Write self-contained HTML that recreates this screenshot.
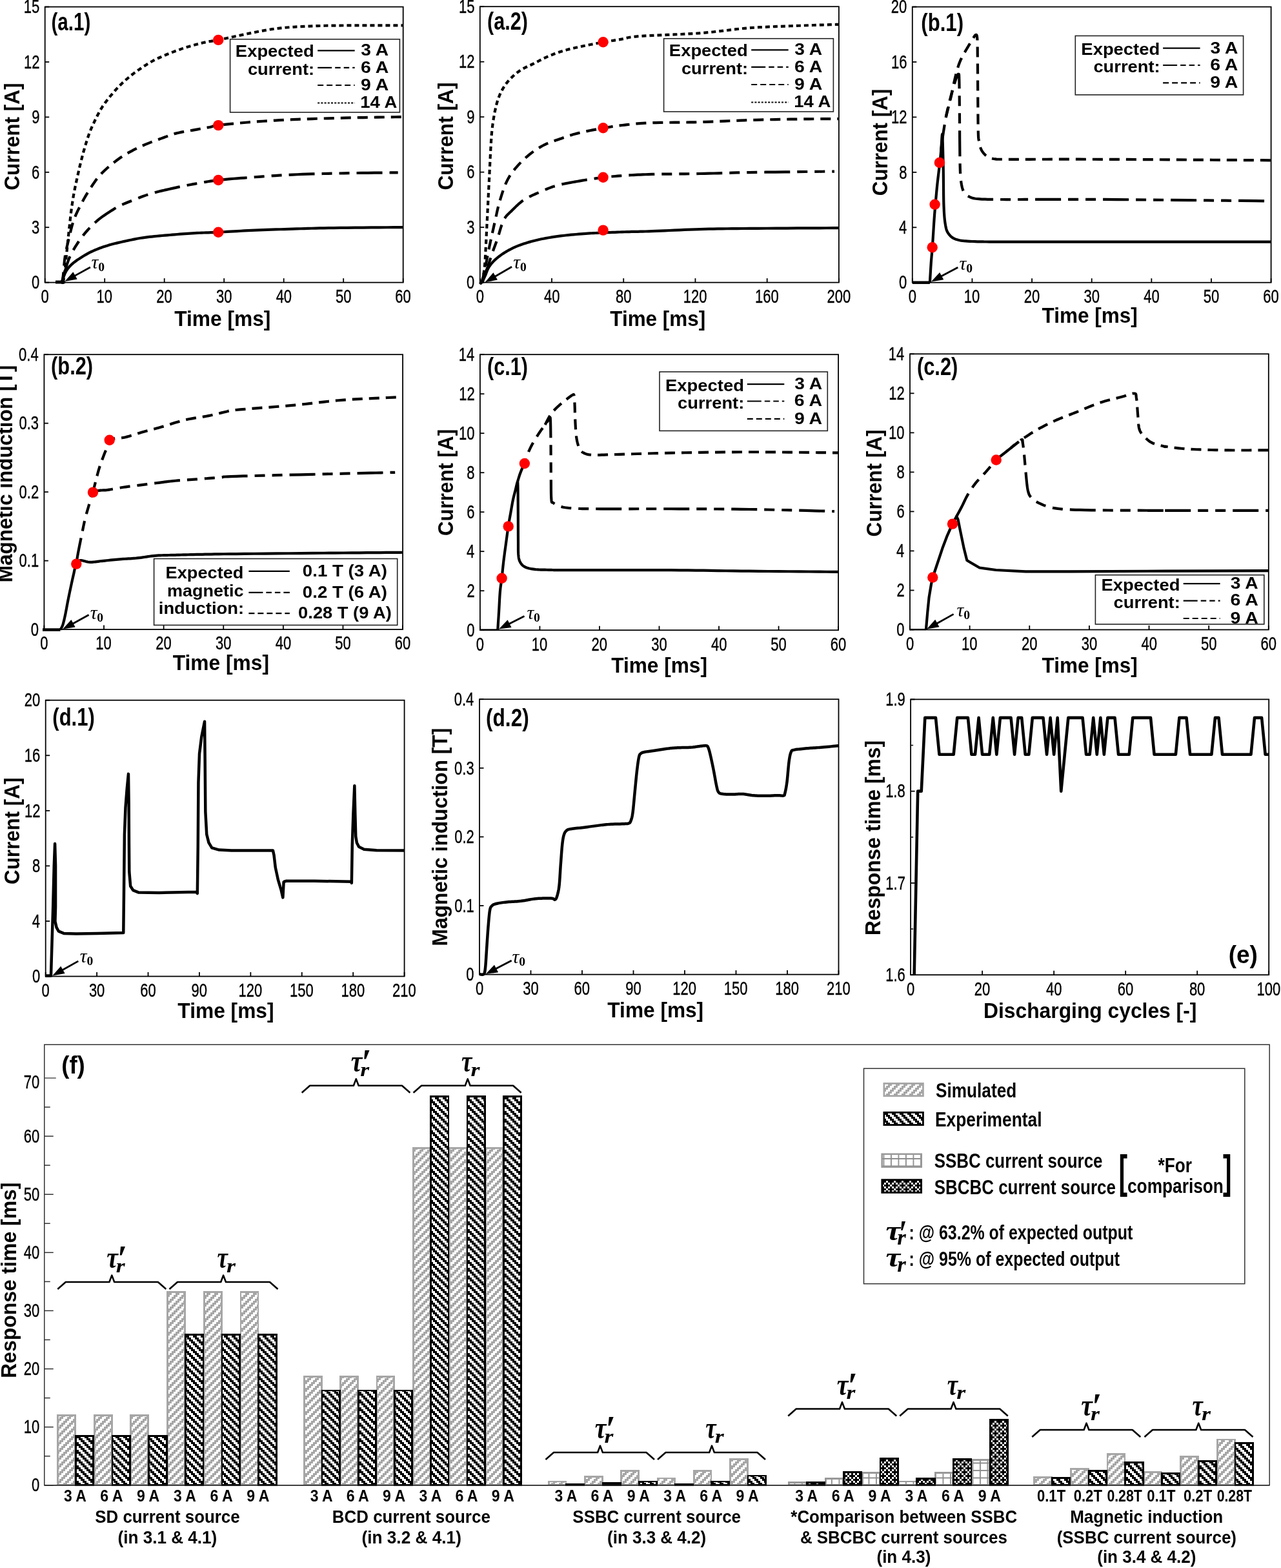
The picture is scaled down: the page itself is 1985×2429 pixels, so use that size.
<!DOCTYPE html>
<html><head><meta charset="utf-8"><title>Figure</title>
<style>html,body{margin:0;padding:0;background:#fff;overflow:hidden;width:1985px;height:2429px;}svg{display:block;}</style>
</head><body>
<svg width="1985" height="2429" viewBox="0 0 1985 2429" font-family='"Liberation Sans", Arial, sans-serif'>
<rect x="0" y="0" width="1985" height="2429" fill="#fff"/>
<defs><pattern id="psim" patternUnits="userSpaceOnUse" x="2" y="2" width="12" height="12"><rect width="12" height="12" fill="#fff"/><path d="M3 0h3v3h-3zM6 0h3v3h-3zM0 3h3v3h-3zM3 3h3v3h-3zM0 6h3v3h-3zM9 6h3v3h-3zM6 9h3v3h-3zM9 9h3v3h-3z" fill="#a6a6a6" shape-rendering="crispEdges"/></pattern><pattern id="pexp" patternUnits="userSpaceOnUse" x="2" y="2" width="12" height="12"><rect width="12" height="12" fill="#fff"/><path d="M6 0h3v3h-3zM9 0h3v3h-3zM0 3h3v3h-3zM9 3h3v3h-3zM0 6h3v3h-3zM3 6h3v3h-3zM3 9h3v3h-3zM6 9h3v3h-3z" fill="#000" shape-rendering="crispEdges"/></pattern><pattern id="pchk" patternUnits="userSpaceOnUse" x="2" y="2" width="12" height="12"><rect width="12" height="12" fill="#000"/><path d="M0 0h3v3h-3zM6 0h3v3h-3zM3 3h3v3h-3zM0 6h3v3h-3zM6 6h3v3h-3zM9 9h3v3h-3z" fill="#fff" shape-rendering="crispEdges"/></pattern><pattern id="pgrid" patternUnits="userSpaceOnUse" x="0" y="0" width="11.5" height="11.5"><rect width="11.5" height="11.5" fill="#fff"/><path d="M0 0.9H11.5M0.9 0V11.5" stroke="#8c8c8c" stroke-width="1.8"/></pattern></defs>
<rect x="69.7" y="10.6" width="555" height="427" fill="none" stroke="#000" stroke-width="1.8" />
<line x1="69.7" y1="437.6" x2="69.7" y2="431.1" stroke="#000" stroke-width="1.8" />
<text x="63.58" y="468.9" font-size="28.7" textLength="12.25" lengthAdjust="spacingAndGlyphs" stroke="#000" stroke-width="0.35">0</text>
<line x1="162.2" y1="437.6" x2="162.2" y2="431.1" stroke="#000" stroke-width="1.8" />
<text x="149.54" y="468.9" font-size="28.7" textLength="24.5" lengthAdjust="spacingAndGlyphs" stroke="#000" stroke-width="0.35">10</text>
<line x1="254.7" y1="437.6" x2="254.7" y2="431.1" stroke="#000" stroke-width="1.8" />
<text x="242.33" y="468.9" font-size="28.7" textLength="24.5" lengthAdjust="spacingAndGlyphs" stroke="#000" stroke-width="0.35">20</text>
<line x1="347.2" y1="437.6" x2="347.2" y2="431.1" stroke="#000" stroke-width="1.8" />
<text x="334.96" y="468.9" font-size="28.7" textLength="24.5" lengthAdjust="spacingAndGlyphs" stroke="#000" stroke-width="0.35">30</text>
<line x1="439.7" y1="437.6" x2="439.7" y2="431.1" stroke="#000" stroke-width="1.8" />
<text x="427.63" y="468.9" font-size="28.7" textLength="24.5" lengthAdjust="spacingAndGlyphs" stroke="#000" stroke-width="0.35">40</text>
<line x1="532.2" y1="437.6" x2="532.2" y2="431.1" stroke="#000" stroke-width="1.8" />
<text x="519.94" y="468.9" font-size="28.7" textLength="24.5" lengthAdjust="spacingAndGlyphs" stroke="#000" stroke-width="0.35">50</text>
<line x1="624.7" y1="437.6" x2="624.7" y2="431.1" stroke="#000" stroke-width="1.8" />
<text x="612.32" y="468.9" font-size="28.7" textLength="24.5" lengthAdjust="spacingAndGlyphs" stroke="#000" stroke-width="0.35">60</text>
<line x1="69.7" y1="437.6" x2="76.2" y2="437.6" stroke="#000" stroke-width="1.8" />
<text x="49.01" y="447.3" font-size="28.7" textLength="12.25" lengthAdjust="spacingAndGlyphs" stroke="#000" stroke-width="0.35">0</text>
<line x1="69.7" y1="352.2" x2="76.2" y2="352.2" stroke="#000" stroke-width="1.8" />
<text x="49.12" y="361.9" font-size="28.7" textLength="12.25" lengthAdjust="spacingAndGlyphs" stroke="#000" stroke-width="0.35">3</text>
<line x1="69.7" y1="266.8" x2="76.2" y2="266.8" stroke="#000" stroke-width="1.8" />
<text x="49.12" y="276.5" font-size="28.7" textLength="12.25" lengthAdjust="spacingAndGlyphs" stroke="#000" stroke-width="0.35">6</text>
<line x1="69.7" y1="181.4" x2="76.2" y2="181.4" stroke="#000" stroke-width="1.8" />
<text x="49.19" y="191.1" font-size="28.7" textLength="12.25" lengthAdjust="spacingAndGlyphs" stroke="#000" stroke-width="0.35">9</text>
<line x1="69.7" y1="96" x2="76.2" y2="96" stroke="#000" stroke-width="1.8" />
<text x="37.01" y="105.7" font-size="28.7" textLength="24.5" lengthAdjust="spacingAndGlyphs" stroke="#000" stroke-width="0.35">12</text>
<line x1="69.7" y1="10.6" x2="76.2" y2="10.6" stroke="#000" stroke-width="1.8" />
<text x="36.83" y="20.3" font-size="28.7" textLength="24.5" lengthAdjust="spacingAndGlyphs" stroke="#000" stroke-width="0.35">15</text>
<text x="270.15" y="505.3" font-size="32.3" font-weight="bold" textLength="149.23" lengthAdjust="spacingAndGlyphs">Time [ms]</text>
<text x="30" y="294.69" font-size="32.3" font-weight="bold" textLength="166.17" lengthAdjust="spacingAndGlyphs" transform="rotate(-90 30 294.69)">Current [A]</text>
<text x="79.42" y="46.9" font-size="38.7" font-weight="bold" textLength="60.87" lengthAdjust="spacingAndGlyphs">(a.1)</text>
<rect x="743.8" y="10.2" width="556.1" height="427.4" fill="none" stroke="#000" stroke-width="1.8" />
<line x1="743.8" y1="437.6" x2="743.8" y2="431.1" stroke="#000" stroke-width="1.8" />
<text x="737.68" y="468.9" font-size="28.7" textLength="12.25" lengthAdjust="spacingAndGlyphs" stroke="#000" stroke-width="0.35">0</text>
<line x1="855.02" y1="437.6" x2="855.02" y2="431.1" stroke="#000" stroke-width="1.8" />
<text x="842.95" y="468.9" font-size="28.7" textLength="24.5" lengthAdjust="spacingAndGlyphs" stroke="#000" stroke-width="0.35">40</text>
<line x1="966.24" y1="437.6" x2="966.24" y2="431.1" stroke="#000" stroke-width="1.8" />
<text x="953.95" y="468.9" font-size="28.7" textLength="24.5" lengthAdjust="spacingAndGlyphs" stroke="#000" stroke-width="0.35">80</text>
<line x1="1077.46" y1="437.6" x2="1077.46" y2="431.1" stroke="#000" stroke-width="1.8" />
<text x="1058.68" y="468.9" font-size="28.7" textLength="36.75" lengthAdjust="spacingAndGlyphs" stroke="#000" stroke-width="0.35">120</text>
<line x1="1188.68" y1="437.6" x2="1188.68" y2="431.1" stroke="#000" stroke-width="1.8" />
<text x="1169.9" y="468.9" font-size="28.7" textLength="36.75" lengthAdjust="spacingAndGlyphs" stroke="#000" stroke-width="0.35">160</text>
<line x1="1299.9" y1="437.6" x2="1299.9" y2="431.1" stroke="#000" stroke-width="1.8" />
<text x="1281.41" y="468.9" font-size="28.7" textLength="36.75" lengthAdjust="spacingAndGlyphs" stroke="#000" stroke-width="0.35">200</text>
<line x1="743.8" y1="437.6" x2="750.3" y2="437.6" stroke="#000" stroke-width="1.8" />
<text x="723.11" y="447.3" font-size="28.7" textLength="12.25" lengthAdjust="spacingAndGlyphs" stroke="#000" stroke-width="0.35">0</text>
<line x1="743.8" y1="352.12" x2="750.3" y2="352.12" stroke="#000" stroke-width="1.8" />
<text x="723.22" y="361.82" font-size="28.7" textLength="12.25" lengthAdjust="spacingAndGlyphs" stroke="#000" stroke-width="0.35">3</text>
<line x1="743.8" y1="266.64" x2="750.3" y2="266.64" stroke="#000" stroke-width="1.8" />
<text x="723.22" y="276.34" font-size="28.7" textLength="12.25" lengthAdjust="spacingAndGlyphs" stroke="#000" stroke-width="0.35">6</text>
<line x1="743.8" y1="181.16" x2="750.3" y2="181.16" stroke="#000" stroke-width="1.8" />
<text x="723.29" y="190.86" font-size="28.7" textLength="12.25" lengthAdjust="spacingAndGlyphs" stroke="#000" stroke-width="0.35">9</text>
<line x1="743.8" y1="95.68" x2="750.3" y2="95.68" stroke="#000" stroke-width="1.8" />
<text x="711.11" y="105.38" font-size="28.7" textLength="24.5" lengthAdjust="spacingAndGlyphs" stroke="#000" stroke-width="0.35">12</text>
<line x1="743.8" y1="10.2" x2="750.3" y2="10.2" stroke="#000" stroke-width="1.8" />
<text x="710.93" y="19.9" font-size="28.7" textLength="24.5" lengthAdjust="spacingAndGlyphs" stroke="#000" stroke-width="0.35">15</text>
<text x="945.25" y="504.6" font-size="32.3" font-weight="bold" textLength="148.01" lengthAdjust="spacingAndGlyphs">Time [ms]</text>
<text x="702" y="294.6" font-size="32.3" font-weight="bold" textLength="167.08" lengthAdjust="spacingAndGlyphs" transform="rotate(-90 702 294.6)">Current [A]</text>
<text x="754.97" y="45.9" font-size="38.7" font-weight="bold" textLength="62.86" lengthAdjust="spacingAndGlyphs">(a.2)</text>
<rect x="1413.8" y="10.6" width="555.8" height="427.1" fill="none" stroke="#000" stroke-width="1.8" />
<line x1="1413.8" y1="437.7" x2="1413.8" y2="431.2" stroke="#000" stroke-width="1.8" />
<text x="1407.68" y="469" font-size="28.7" textLength="12.25" lengthAdjust="spacingAndGlyphs" stroke="#000" stroke-width="0.35">0</text>
<line x1="1506.43" y1="437.7" x2="1506.43" y2="431.2" stroke="#000" stroke-width="1.8" />
<text x="1493.78" y="469" font-size="28.7" textLength="24.5" lengthAdjust="spacingAndGlyphs" stroke="#000" stroke-width="0.35">10</text>
<line x1="1599.07" y1="437.7" x2="1599.07" y2="431.2" stroke="#000" stroke-width="1.8" />
<text x="1586.7" y="469" font-size="28.7" textLength="24.5" lengthAdjust="spacingAndGlyphs" stroke="#000" stroke-width="0.35">20</text>
<line x1="1691.7" y1="437.7" x2="1691.7" y2="431.2" stroke="#000" stroke-width="1.8" />
<text x="1679.46" y="469" font-size="28.7" textLength="24.5" lengthAdjust="spacingAndGlyphs" stroke="#000" stroke-width="0.35">30</text>
<line x1="1784.33" y1="437.7" x2="1784.33" y2="431.2" stroke="#000" stroke-width="1.8" />
<text x="1772.26" y="469" font-size="28.7" textLength="24.5" lengthAdjust="spacingAndGlyphs" stroke="#000" stroke-width="0.35">40</text>
<line x1="1876.97" y1="437.7" x2="1876.97" y2="431.2" stroke="#000" stroke-width="1.8" />
<text x="1864.71" y="469" font-size="28.7" textLength="24.5" lengthAdjust="spacingAndGlyphs" stroke="#000" stroke-width="0.35">50</text>
<line x1="1969.6" y1="437.7" x2="1969.6" y2="431.2" stroke="#000" stroke-width="1.8" />
<text x="1957.22" y="469" font-size="28.7" textLength="24.5" lengthAdjust="spacingAndGlyphs" stroke="#000" stroke-width="0.35">60</text>
<line x1="1413.8" y1="437.7" x2="1420.3" y2="437.7" stroke="#000" stroke-width="1.8" />
<text x="1393.11" y="447.4" font-size="28.7" textLength="12.25" lengthAdjust="spacingAndGlyphs" stroke="#000" stroke-width="0.35">0</text>
<line x1="1413.8" y1="352.28" x2="1420.3" y2="352.28" stroke="#000" stroke-width="1.8" />
<text x="1392.89" y="361.98" font-size="28.7" textLength="12.25" lengthAdjust="spacingAndGlyphs" stroke="#000" stroke-width="0.35">4</text>
<line x1="1413.8" y1="266.86" x2="1420.3" y2="266.86" stroke="#000" stroke-width="1.8" />
<text x="1393.2" y="276.56" font-size="28.7" textLength="12.25" lengthAdjust="spacingAndGlyphs" stroke="#000" stroke-width="0.35">8</text>
<line x1="1413.8" y1="181.44" x2="1420.3" y2="181.44" stroke="#000" stroke-width="1.8" />
<text x="1381.11" y="191.14" font-size="28.7" textLength="24.5" lengthAdjust="spacingAndGlyphs" stroke="#000" stroke-width="0.35">12</text>
<line x1="1413.8" y1="96.02" x2="1420.3" y2="96.02" stroke="#000" stroke-width="1.8" />
<text x="1380.97" y="105.72" font-size="28.7" textLength="24.5" lengthAdjust="spacingAndGlyphs" stroke="#000" stroke-width="0.35">16</text>
<line x1="1413.8" y1="10.6" x2="1420.3" y2="10.6" stroke="#000" stroke-width="1.8" />
<text x="1380.86" y="20.3" font-size="28.7" textLength="24.5" lengthAdjust="spacingAndGlyphs" stroke="#000" stroke-width="0.35">20</text>
<text x="1614.55" y="499.6" font-size="32.3" font-weight="bold" textLength="148.11" lengthAdjust="spacingAndGlyphs">Time [ms]</text>
<text x="1375" y="303.18" font-size="32.3" font-weight="bold" textLength="165.35" lengthAdjust="spacingAndGlyphs" transform="rotate(-90 1375 303.18)">Current [A]</text>
<text x="1427.34" y="47.7" font-size="38.7" font-weight="bold" textLength="65.71" lengthAdjust="spacingAndGlyphs">(b.1)</text>
<rect x="68.4" y="549.2" width="555.7" height="425.9" fill="none" stroke="#000" stroke-width="1.8" />
<line x1="68.4" y1="975.1" x2="68.4" y2="968.6" stroke="#000" stroke-width="1.8" />
<text x="62.28" y="1006.4" font-size="28.7" textLength="12.25" lengthAdjust="spacingAndGlyphs" stroke="#000" stroke-width="0.35">0</text>
<line x1="161.02" y1="975.1" x2="161.02" y2="968.6" stroke="#000" stroke-width="1.8" />
<text x="148.36" y="1006.4" font-size="28.7" textLength="24.5" lengthAdjust="spacingAndGlyphs" stroke="#000" stroke-width="0.35">10</text>
<line x1="253.63" y1="975.1" x2="253.63" y2="968.6" stroke="#000" stroke-width="1.8" />
<text x="241.26" y="1006.4" font-size="28.7" textLength="24.5" lengthAdjust="spacingAndGlyphs" stroke="#000" stroke-width="0.35">20</text>
<line x1="346.25" y1="975.1" x2="346.25" y2="968.6" stroke="#000" stroke-width="1.8" />
<text x="334.01" y="1006.4" font-size="28.7" textLength="24.5" lengthAdjust="spacingAndGlyphs" stroke="#000" stroke-width="0.35">30</text>
<line x1="438.87" y1="975.1" x2="438.87" y2="968.6" stroke="#000" stroke-width="1.8" />
<text x="426.79" y="1006.4" font-size="28.7" textLength="24.5" lengthAdjust="spacingAndGlyphs" stroke="#000" stroke-width="0.35">40</text>
<line x1="531.48" y1="975.1" x2="531.48" y2="968.6" stroke="#000" stroke-width="1.8" />
<text x="519.22" y="1006.4" font-size="28.7" textLength="24.5" lengthAdjust="spacingAndGlyphs" stroke="#000" stroke-width="0.35">50</text>
<line x1="624.1" y1="975.1" x2="624.1" y2="968.6" stroke="#000" stroke-width="1.8" />
<text x="611.72" y="1006.4" font-size="28.7" textLength="24.5" lengthAdjust="spacingAndGlyphs" stroke="#000" stroke-width="0.35">60</text>
<line x1="68.4" y1="975.1" x2="74.9" y2="975.1" stroke="#000" stroke-width="1.8" />
<text x="47.71" y="984.8" font-size="28.7" textLength="12.25" lengthAdjust="spacingAndGlyphs" stroke="#000" stroke-width="0.35">0</text>
<line x1="68.4" y1="868.62" x2="74.9" y2="868.62" stroke="#000" stroke-width="1.8" />
<text x="29.56" y="878.33" font-size="28.7" textLength="30.62" lengthAdjust="spacingAndGlyphs" stroke="#000" stroke-width="0.35">0.1</text>
<line x1="68.4" y1="762.15" x2="74.9" y2="762.15" stroke="#000" stroke-width="1.8" />
<text x="29.58" y="771.85" font-size="28.7" textLength="30.62" lengthAdjust="spacingAndGlyphs" stroke="#000" stroke-width="0.35">0.2</text>
<line x1="68.4" y1="655.68" x2="74.9" y2="655.68" stroke="#000" stroke-width="1.8" />
<text x="29.45" y="665.38" font-size="28.7" textLength="30.62" lengthAdjust="spacingAndGlyphs" stroke="#000" stroke-width="0.35">0.3</text>
<line x1="68.4" y1="549.2" x2="74.9" y2="549.2" stroke="#000" stroke-width="1.8" />
<text x="29.12" y="558.9" font-size="28.7" textLength="30.62" lengthAdjust="spacingAndGlyphs" stroke="#000" stroke-width="0.35">0.4</text>
<text x="267.65" y="1038.4" font-size="32.3" font-weight="bold" textLength="149.33" lengthAdjust="spacingAndGlyphs">Time [ms]</text>
<text x="18.7" y="902.31" font-size="32.3" font-weight="bold" textLength="336.57" lengthAdjust="spacingAndGlyphs" transform="rotate(-90 18.7 902.31)">Magnetic induction [T]</text>
<text x="79.06" y="580.3" font-size="38.7" font-weight="bold" textLength="65.08" lengthAdjust="spacingAndGlyphs">(b.2)</text>
<rect x="743.9" y="549.2" width="555.2" height="427" fill="none" stroke="#000" stroke-width="1.8" />
<line x1="743.9" y1="976.2" x2="743.9" y2="969.7" stroke="#000" stroke-width="1.8" />
<text x="737.78" y="1007.5" font-size="28.7" textLength="12.25" lengthAdjust="spacingAndGlyphs" stroke="#000" stroke-width="0.35">0</text>
<line x1="836.43" y1="976.2" x2="836.43" y2="969.7" stroke="#000" stroke-width="1.8" />
<text x="823.78" y="1007.5" font-size="28.7" textLength="24.5" lengthAdjust="spacingAndGlyphs" stroke="#000" stroke-width="0.35">10</text>
<line x1="928.97" y1="976.2" x2="928.97" y2="969.7" stroke="#000" stroke-width="1.8" />
<text x="916.6" y="1007.5" font-size="28.7" textLength="24.5" lengthAdjust="spacingAndGlyphs" stroke="#000" stroke-width="0.35">20</text>
<line x1="1021.5" y1="976.2" x2="1021.5" y2="969.7" stroke="#000" stroke-width="1.8" />
<text x="1009.26" y="1007.5" font-size="28.7" textLength="24.5" lengthAdjust="spacingAndGlyphs" stroke="#000" stroke-width="0.35">30</text>
<line x1="1114.03" y1="976.2" x2="1114.03" y2="969.7" stroke="#000" stroke-width="1.8" />
<text x="1101.96" y="1007.5" font-size="28.7" textLength="24.5" lengthAdjust="spacingAndGlyphs" stroke="#000" stroke-width="0.35">40</text>
<line x1="1206.57" y1="976.2" x2="1206.57" y2="969.7" stroke="#000" stroke-width="1.8" />
<text x="1194.31" y="1007.5" font-size="28.7" textLength="24.5" lengthAdjust="spacingAndGlyphs" stroke="#000" stroke-width="0.35">50</text>
<line x1="1299.1" y1="976.2" x2="1299.1" y2="969.7" stroke="#000" stroke-width="1.8" />
<text x="1286.72" y="1007.5" font-size="28.7" textLength="24.5" lengthAdjust="spacingAndGlyphs" stroke="#000" stroke-width="0.35">60</text>
<line x1="743.9" y1="976.2" x2="750.4" y2="976.2" stroke="#000" stroke-width="1.8" />
<text x="723.21" y="985.9" font-size="28.7" textLength="12.25" lengthAdjust="spacingAndGlyphs" stroke="#000" stroke-width="0.35">0</text>
<line x1="743.9" y1="915.2" x2="750.4" y2="915.2" stroke="#000" stroke-width="1.8" />
<text x="723.45" y="924.9" font-size="28.7" textLength="12.25" lengthAdjust="spacingAndGlyphs" stroke="#000" stroke-width="0.35">2</text>
<line x1="743.9" y1="854.2" x2="750.4" y2="854.2" stroke="#000" stroke-width="1.8" />
<text x="722.99" y="863.9" font-size="28.7" textLength="12.25" lengthAdjust="spacingAndGlyphs" stroke="#000" stroke-width="0.35">4</text>
<line x1="743.9" y1="793.2" x2="750.4" y2="793.2" stroke="#000" stroke-width="1.8" />
<text x="723.32" y="802.9" font-size="28.7" textLength="12.25" lengthAdjust="spacingAndGlyphs" stroke="#000" stroke-width="0.35">6</text>
<line x1="743.9" y1="732.2" x2="750.4" y2="732.2" stroke="#000" stroke-width="1.8" />
<text x="723.3" y="741.9" font-size="28.7" textLength="12.25" lengthAdjust="spacingAndGlyphs" stroke="#000" stroke-width="0.35">8</text>
<line x1="743.9" y1="671.2" x2="750.4" y2="671.2" stroke="#000" stroke-width="1.8" />
<text x="710.96" y="680.9" font-size="28.7" textLength="24.5" lengthAdjust="spacingAndGlyphs" stroke="#000" stroke-width="0.35">10</text>
<line x1="743.9" y1="610.2" x2="750.4" y2="610.2" stroke="#000" stroke-width="1.8" />
<text x="711.21" y="619.9" font-size="28.7" textLength="24.5" lengthAdjust="spacingAndGlyphs" stroke="#000" stroke-width="0.35">12</text>
<line x1="743.9" y1="549.2" x2="750.4" y2="549.2" stroke="#000" stroke-width="1.8" />
<text x="710.74" y="558.9" font-size="28.7" textLength="24.5" lengthAdjust="spacingAndGlyphs" stroke="#000" stroke-width="0.35">14</text>
<text x="947.15" y="1042" font-size="32.3" font-weight="bold" textLength="148.82" lengthAdjust="spacingAndGlyphs">Time [ms]</text>
<text x="702" y="830.08" font-size="32.3" font-weight="bold" textLength="165.15" lengthAdjust="spacingAndGlyphs" transform="rotate(-90 702 830.08)">Current [A]</text>
<text x="754.97" y="581.4" font-size="38.7" font-weight="bold" textLength="62.86" lengthAdjust="spacingAndGlyphs">(c.1)</text>
<rect x="1410" y="548.3" width="555.8" height="427.2" fill="none" stroke="#000" stroke-width="1.8" />
<line x1="1410" y1="975.5" x2="1410" y2="969" stroke="#000" stroke-width="1.8" />
<text x="1403.88" y="1006.8" font-size="28.7" textLength="12.25" lengthAdjust="spacingAndGlyphs" stroke="#000" stroke-width="0.35">0</text>
<line x1="1502.63" y1="975.5" x2="1502.63" y2="969" stroke="#000" stroke-width="1.8" />
<text x="1489.98" y="1006.8" font-size="28.7" textLength="24.5" lengthAdjust="spacingAndGlyphs" stroke="#000" stroke-width="0.35">10</text>
<line x1="1595.27" y1="975.5" x2="1595.27" y2="969" stroke="#000" stroke-width="1.8" />
<text x="1582.9" y="1006.8" font-size="28.7" textLength="24.5" lengthAdjust="spacingAndGlyphs" stroke="#000" stroke-width="0.35">20</text>
<line x1="1687.9" y1="975.5" x2="1687.9" y2="969" stroke="#000" stroke-width="1.8" />
<text x="1675.66" y="1006.8" font-size="28.7" textLength="24.5" lengthAdjust="spacingAndGlyphs" stroke="#000" stroke-width="0.35">30</text>
<line x1="1780.53" y1="975.5" x2="1780.53" y2="969" stroke="#000" stroke-width="1.8" />
<text x="1768.46" y="1006.8" font-size="28.7" textLength="24.5" lengthAdjust="spacingAndGlyphs" stroke="#000" stroke-width="0.35">40</text>
<line x1="1873.17" y1="975.5" x2="1873.17" y2="969" stroke="#000" stroke-width="1.8" />
<text x="1860.91" y="1006.8" font-size="28.7" textLength="24.5" lengthAdjust="spacingAndGlyphs" stroke="#000" stroke-width="0.35">50</text>
<line x1="1965.8" y1="975.5" x2="1965.8" y2="969" stroke="#000" stroke-width="1.8" />
<text x="1953.42" y="1006.8" font-size="28.7" textLength="24.5" lengthAdjust="spacingAndGlyphs" stroke="#000" stroke-width="0.35">60</text>
<line x1="1410" y1="975.5" x2="1416.5" y2="975.5" stroke="#000" stroke-width="1.8" />
<text x="1389.31" y="985.2" font-size="28.7" textLength="12.25" lengthAdjust="spacingAndGlyphs" stroke="#000" stroke-width="0.35">0</text>
<line x1="1410" y1="914.47" x2="1416.5" y2="914.47" stroke="#000" stroke-width="1.8" />
<text x="1389.55" y="924.17" font-size="28.7" textLength="12.25" lengthAdjust="spacingAndGlyphs" stroke="#000" stroke-width="0.35">2</text>
<line x1="1410" y1="853.44" x2="1416.5" y2="853.44" stroke="#000" stroke-width="1.8" />
<text x="1389.09" y="863.14" font-size="28.7" textLength="12.25" lengthAdjust="spacingAndGlyphs" stroke="#000" stroke-width="0.35">4</text>
<line x1="1410" y1="792.41" x2="1416.5" y2="792.41" stroke="#000" stroke-width="1.8" />
<text x="1389.42" y="802.11" font-size="28.7" textLength="12.25" lengthAdjust="spacingAndGlyphs" stroke="#000" stroke-width="0.35">6</text>
<line x1="1410" y1="731.39" x2="1416.5" y2="731.39" stroke="#000" stroke-width="1.8" />
<text x="1389.4" y="741.09" font-size="28.7" textLength="12.25" lengthAdjust="spacingAndGlyphs" stroke="#000" stroke-width="0.35">8</text>
<line x1="1410" y1="670.36" x2="1416.5" y2="670.36" stroke="#000" stroke-width="1.8" />
<text x="1377.06" y="680.06" font-size="28.7" textLength="24.5" lengthAdjust="spacingAndGlyphs" stroke="#000" stroke-width="0.35">10</text>
<line x1="1410" y1="609.33" x2="1416.5" y2="609.33" stroke="#000" stroke-width="1.8" />
<text x="1377.31" y="619.03" font-size="28.7" textLength="24.5" lengthAdjust="spacingAndGlyphs" stroke="#000" stroke-width="0.35">12</text>
<line x1="1410" y1="548.3" x2="1416.5" y2="548.3" stroke="#000" stroke-width="1.8" />
<text x="1376.84" y="558" font-size="28.7" textLength="24.5" lengthAdjust="spacingAndGlyphs" stroke="#000" stroke-width="0.35">14</text>
<text x="1614.55" y="1042.2" font-size="32.3" font-weight="bold" textLength="148.11" lengthAdjust="spacingAndGlyphs">Time [ms]</text>
<text x="1366" y="831.49" font-size="32.3" font-weight="bold" textLength="166.06" lengthAdjust="spacingAndGlyphs" transform="rotate(-90 1366 831.49)">Current [A]</text>
<text x="1420.96" y="580.6" font-size="38.7" font-weight="bold" textLength="63.39" lengthAdjust="spacingAndGlyphs">(c.2)</text>
<rect x="70.7" y="1084.7" width="555.9" height="427.8" fill="none" stroke="#000" stroke-width="1.8" />
<line x1="70.7" y1="1512.5" x2="70.7" y2="1506" stroke="#000" stroke-width="1.8" />
<text x="64.58" y="1543.8" font-size="28.7" textLength="12.25" lengthAdjust="spacingAndGlyphs" stroke="#000" stroke-width="0.35">0</text>
<line x1="150.11" y1="1512.5" x2="150.11" y2="1506" stroke="#000" stroke-width="1.8" />
<text x="137.88" y="1543.8" font-size="28.7" textLength="24.5" lengthAdjust="spacingAndGlyphs" stroke="#000" stroke-width="0.35">30</text>
<line x1="229.53" y1="1512.5" x2="229.53" y2="1506" stroke="#000" stroke-width="1.8" />
<text x="217.15" y="1543.8" font-size="28.7" textLength="24.5" lengthAdjust="spacingAndGlyphs" stroke="#000" stroke-width="0.35">60</text>
<line x1="308.94" y1="1512.5" x2="308.94" y2="1506" stroke="#000" stroke-width="1.8" />
<text x="296.61" y="1543.8" font-size="28.7" textLength="24.5" lengthAdjust="spacingAndGlyphs" stroke="#000" stroke-width="0.35">90</text>
<line x1="388.36" y1="1512.5" x2="388.36" y2="1506" stroke="#000" stroke-width="1.8" />
<text x="369.58" y="1543.8" font-size="28.7" textLength="36.75" lengthAdjust="spacingAndGlyphs" stroke="#000" stroke-width="0.35">120</text>
<line x1="467.77" y1="1512.5" x2="467.77" y2="1506" stroke="#000" stroke-width="1.8" />
<text x="448.99" y="1543.8" font-size="28.7" textLength="36.75" lengthAdjust="spacingAndGlyphs" stroke="#000" stroke-width="0.35">150</text>
<line x1="547.19" y1="1512.5" x2="547.19" y2="1506" stroke="#000" stroke-width="1.8" />
<text x="528.41" y="1543.8" font-size="28.7" textLength="36.75" lengthAdjust="spacingAndGlyphs" stroke="#000" stroke-width="0.35">180</text>
<line x1="626.6" y1="1512.5" x2="626.6" y2="1506" stroke="#000" stroke-width="1.8" />
<text x="608.11" y="1543.8" font-size="28.7" textLength="36.75" lengthAdjust="spacingAndGlyphs" stroke="#000" stroke-width="0.35">210</text>
<line x1="70.7" y1="1512.5" x2="77.2" y2="1512.5" stroke="#000" stroke-width="1.8" />
<text x="50.01" y="1522.2" font-size="28.7" textLength="12.25" lengthAdjust="spacingAndGlyphs" stroke="#000" stroke-width="0.35">0</text>
<line x1="70.7" y1="1426.94" x2="77.2" y2="1426.94" stroke="#000" stroke-width="1.8" />
<text x="49.79" y="1436.64" font-size="28.7" textLength="12.25" lengthAdjust="spacingAndGlyphs" stroke="#000" stroke-width="0.35">4</text>
<line x1="70.7" y1="1341.38" x2="77.2" y2="1341.38" stroke="#000" stroke-width="1.8" />
<text x="50.1" y="1351.08" font-size="28.7" textLength="12.25" lengthAdjust="spacingAndGlyphs" stroke="#000" stroke-width="0.35">8</text>
<line x1="70.7" y1="1255.82" x2="77.2" y2="1255.82" stroke="#000" stroke-width="1.8" />
<text x="38.01" y="1265.52" font-size="28.7" textLength="24.5" lengthAdjust="spacingAndGlyphs" stroke="#000" stroke-width="0.35">12</text>
<line x1="70.7" y1="1170.26" x2="77.2" y2="1170.26" stroke="#000" stroke-width="1.8" />
<text x="37.87" y="1179.96" font-size="28.7" textLength="24.5" lengthAdjust="spacingAndGlyphs" stroke="#000" stroke-width="0.35">16</text>
<line x1="70.7" y1="1084.7" x2="77.2" y2="1084.7" stroke="#000" stroke-width="1.8" />
<text x="37.76" y="1094.4" font-size="28.7" textLength="24.5" lengthAdjust="spacingAndGlyphs" stroke="#000" stroke-width="0.35">20</text>
<text x="275.35" y="1576.5" font-size="32.3" font-weight="bold" textLength="149.23" lengthAdjust="spacingAndGlyphs">Time [ms]</text>
<text x="30" y="1369.98" font-size="32.3" font-weight="bold" textLength="165.35" lengthAdjust="spacingAndGlyphs" transform="rotate(-90 30 1369.98)">Current [A]</text>
<text x="81.35" y="1124.1" font-size="38.7" font-weight="bold" textLength="65.39" lengthAdjust="spacingAndGlyphs">(d.1)</text>
<rect x="743" y="1083.2" width="556.5" height="426.4" fill="none" stroke="#000" stroke-width="1.8" />
<line x1="743" y1="1509.6" x2="743" y2="1503.1" stroke="#000" stroke-width="1.8" />
<text x="736.88" y="1540.9" font-size="28.7" textLength="12.25" lengthAdjust="spacingAndGlyphs" stroke="#000" stroke-width="0.35">0</text>
<line x1="822.5" y1="1509.6" x2="822.5" y2="1503.1" stroke="#000" stroke-width="1.8" />
<text x="810.26" y="1540.9" font-size="28.7" textLength="24.5" lengthAdjust="spacingAndGlyphs" stroke="#000" stroke-width="0.35">30</text>
<line x1="902" y1="1509.6" x2="902" y2="1503.1" stroke="#000" stroke-width="1.8" />
<text x="889.62" y="1540.9" font-size="28.7" textLength="24.5" lengthAdjust="spacingAndGlyphs" stroke="#000" stroke-width="0.35">60</text>
<line x1="981.5" y1="1509.6" x2="981.5" y2="1503.1" stroke="#000" stroke-width="1.8" />
<text x="969.16" y="1540.9" font-size="28.7" textLength="24.5" lengthAdjust="spacingAndGlyphs" stroke="#000" stroke-width="0.35">90</text>
<line x1="1061" y1="1509.6" x2="1061" y2="1503.1" stroke="#000" stroke-width="1.8" />
<text x="1042.22" y="1540.9" font-size="28.7" textLength="36.75" lengthAdjust="spacingAndGlyphs" stroke="#000" stroke-width="0.35">120</text>
<line x1="1140.5" y1="1509.6" x2="1140.5" y2="1503.1" stroke="#000" stroke-width="1.8" />
<text x="1121.72" y="1540.9" font-size="28.7" textLength="36.75" lengthAdjust="spacingAndGlyphs" stroke="#000" stroke-width="0.35">150</text>
<line x1="1220" y1="1509.6" x2="1220" y2="1503.1" stroke="#000" stroke-width="1.8" />
<text x="1201.22" y="1540.9" font-size="28.7" textLength="36.75" lengthAdjust="spacingAndGlyphs" stroke="#000" stroke-width="0.35">180</text>
<line x1="1299.5" y1="1509.6" x2="1299.5" y2="1503.1" stroke="#000" stroke-width="1.8" />
<text x="1281.01" y="1540.9" font-size="28.7" textLength="36.75" lengthAdjust="spacingAndGlyphs" stroke="#000" stroke-width="0.35">210</text>
<line x1="743" y1="1509.6" x2="749.5" y2="1509.6" stroke="#000" stroke-width="1.8" />
<text x="722.31" y="1519.3" font-size="28.7" textLength="12.25" lengthAdjust="spacingAndGlyphs" stroke="#000" stroke-width="0.35">0</text>
<line x1="743" y1="1403" x2="749.5" y2="1403" stroke="#000" stroke-width="1.8" />
<text x="704.16" y="1412.7" font-size="28.7" textLength="30.62" lengthAdjust="spacingAndGlyphs" stroke="#000" stroke-width="0.35">0.1</text>
<line x1="743" y1="1296.4" x2="749.5" y2="1296.4" stroke="#000" stroke-width="1.8" />
<text x="704.18" y="1306.1" font-size="28.7" textLength="30.62" lengthAdjust="spacingAndGlyphs" stroke="#000" stroke-width="0.35">0.2</text>
<line x1="743" y1="1189.8" x2="749.5" y2="1189.8" stroke="#000" stroke-width="1.8" />
<text x="704.05" y="1199.5" font-size="28.7" textLength="30.62" lengthAdjust="spacingAndGlyphs" stroke="#000" stroke-width="0.35">0.3</text>
<line x1="743" y1="1083.2" x2="749.5" y2="1083.2" stroke="#000" stroke-width="1.8" />
<text x="703.72" y="1092.9" font-size="28.7" textLength="30.62" lengthAdjust="spacingAndGlyphs" stroke="#000" stroke-width="0.35">0.4</text>
<text x="941.35" y="1576.2" font-size="32.3" font-weight="bold" textLength="148.82" lengthAdjust="spacingAndGlyphs">Time [ms]</text>
<text x="692.6" y="1465.42" font-size="32.3" font-weight="bold" textLength="337.68" lengthAdjust="spacingAndGlyphs" transform="rotate(-90 692.6 1465.42)">Magnetic induction [T]</text>
<text x="753.02" y="1124.5" font-size="38.7" font-weight="bold" textLength="66.76" lengthAdjust="spacingAndGlyphs">(d.2)</text>
<rect x="1411.1" y="1083.4" width="555.1" height="426.8" fill="none" stroke="#000" stroke-width="1.8" />
<line x1="1411.1" y1="1510.2" x2="1411.1" y2="1503.7" stroke="#000" stroke-width="1.8" />
<text x="1404.98" y="1541.5" font-size="28.7" textLength="12.25" lengthAdjust="spacingAndGlyphs" stroke="#000" stroke-width="0.35">0</text>
<line x1="1522.12" y1="1510.2" x2="1522.12" y2="1503.7" stroke="#000" stroke-width="1.8" />
<text x="1509.75" y="1541.5" font-size="28.7" textLength="24.5" lengthAdjust="spacingAndGlyphs" stroke="#000" stroke-width="0.35">20</text>
<line x1="1633.14" y1="1510.2" x2="1633.14" y2="1503.7" stroke="#000" stroke-width="1.8" />
<text x="1621.07" y="1541.5" font-size="28.7" textLength="24.5" lengthAdjust="spacingAndGlyphs" stroke="#000" stroke-width="0.35">40</text>
<line x1="1744.16" y1="1510.2" x2="1744.16" y2="1503.7" stroke="#000" stroke-width="1.8" />
<text x="1731.78" y="1541.5" font-size="28.7" textLength="24.5" lengthAdjust="spacingAndGlyphs" stroke="#000" stroke-width="0.35">60</text>
<line x1="1855.18" y1="1510.2" x2="1855.18" y2="1503.7" stroke="#000" stroke-width="1.8" />
<text x="1842.89" y="1541.5" font-size="28.7" textLength="24.5" lengthAdjust="spacingAndGlyphs" stroke="#000" stroke-width="0.35">80</text>
<line x1="1966.2" y1="1510.2" x2="1966.2" y2="1503.7" stroke="#000" stroke-width="1.8" />
<text x="1947.42" y="1541.5" font-size="28.7" textLength="36.75" lengthAdjust="spacingAndGlyphs" stroke="#000" stroke-width="0.35">100</text>
<line x1="1411.1" y1="1510.2" x2="1417.6" y2="1510.2" stroke="#000" stroke-width="1.8" />
<text x="1372.15" y="1519.9" font-size="28.7" textLength="30.62" lengthAdjust="spacingAndGlyphs" stroke="#000" stroke-width="0.35">1.6</text>
<line x1="1411.1" y1="1367.93" x2="1417.6" y2="1367.93" stroke="#000" stroke-width="1.8" />
<text x="1372.28" y="1377.63" font-size="28.7" textLength="30.62" lengthAdjust="spacingAndGlyphs" stroke="#000" stroke-width="0.35">1.7</text>
<line x1="1411.1" y1="1225.67" x2="1417.6" y2="1225.67" stroke="#000" stroke-width="1.8" />
<text x="1372.13" y="1235.37" font-size="28.7" textLength="30.62" lengthAdjust="spacingAndGlyphs" stroke="#000" stroke-width="0.35">1.8</text>
<line x1="1411.1" y1="1083.4" x2="1417.6" y2="1083.4" stroke="#000" stroke-width="1.8" />
<text x="1372.22" y="1093.1" font-size="28.7" textLength="30.62" lengthAdjust="spacingAndGlyphs" stroke="#000" stroke-width="0.35">1.9</text>
<line x1="1411.1" y1="1439.07" x2="1415.1" y2="1439.07" stroke="#000" stroke-width="1.5" />
<line x1="1411.1" y1="1296.8" x2="1415.1" y2="1296.8" stroke="#000" stroke-width="1.5" />
<line x1="1411.1" y1="1154.53" x2="1415.1" y2="1154.53" stroke="#000" stroke-width="1.5" />
<text x="1524.07" y="1577.3" font-size="32.3" font-weight="bold" textLength="330.31" lengthAdjust="spacingAndGlyphs">Discharging cycles [-]</text>
<text x="1363.6" y="1448.93" font-size="32.3" font-weight="bold" textLength="302.02" lengthAdjust="spacingAndGlyphs" transform="rotate(-90 1363.6 1448.93)">Response time [ms]</text>
<text x="1903.65" y="1491.5" font-size="38.7" font-weight="bold" textLength="45.21" lengthAdjust="spacingAndGlyphs">(e)</text>
<path d="M86 437 L86.85 437 L88.02 436.99 L89.45 436.99 L91.03 436.98 L92.68 436.98 L94.32 436.98 L95.86 436.98 L97.21 436.98 L98.29 436.99 L99 437 L99.33 437.06 L99.34 437.21 L99.11 437.39 L98.69 437.59 L98.16 437.77 L97.58 437.9 L97.02 437.96 L96.53 437.9 L96.19 437.71 L96.06 437.34 L96.11 436.78 L96.24 436.04 L96.44 435.17 L96.71 434.19 L97.02 433.13 L97.38 432.02 L97.76 430.89 L98.16 429.77 L98.56 428.69 L98.96 427.68 L99.34 426.72 L99.74 425.75 L100.14 424.79 L100.56 423.82 L101.01 422.86 L101.48 421.89 L101.99 420.93 L102.54 419.96 L103.14 419 L103.78 418.03 L104.47 417.07 L105.2 416.1 L105.95 415.14 L106.75 414.17 L107.58 413.2 L108.46 412.24 L109.39 411.27 L110.36 410.31 L111.39 409.34 L112.47 408.38 L113.61 407.41 L114.8 406.45 L116.05 405.48 L117.34 404.52 L118.68 403.55 L120.07 402.59 L121.49 401.62 L122.96 400.66 L124.46 399.69 L125.98 398.73 L127.54 397.76 L129.12 396.78 L130.73 395.8 L132.38 394.82 L134.07 393.84 L135.81 392.86 L137.6 391.9 L139.45 390.94 L141.37 390 L143.36 389.07 L145.42 388.16 L147.53 387.25 L149.7 386.35 L151.93 385.45 L154.22 384.57 L156.56 383.7 L158.97 382.85 L161.43 382.01 L163.95 381.19 L166.53 380.39 L169.19 379.6 L171.95 378.83 L174.79 378.08 L177.69 377.33 L180.64 376.61 L183.62 375.9 L186.61 375.21 L189.6 374.54 L192.56 373.88 L195.48 373.24 L198.33 372.63 L201.12 372.03 L203.87 371.45 L206.6 370.88 L209.36 370.34 L212.16 369.81 L215.04 369.29 L218.03 368.79 L221.15 368.31 L224.44 367.84 L227.91 367.38 L231.54 366.95 L235.31 366.54 L239.19 366.14 L243.14 365.75 L247.14 365.38 L251.16 365.02 L255.17 364.66 L259.15 364.32 L263.05 363.98 L266.92 363.64 L270.8 363.31 L274.69 362.99 L278.59 362.67 L282.48 362.37 L286.36 362.08 L290.22 361.81 L294.06 361.55 L297.88 361.3 L301.66 361.08 L305.34 360.89 L308.88 360.74 L312.34 360.61 L315.77 360.5 L319.2 360.4 L322.7 360.3 L326.32 360.2 L330.1 360.07 L334.09 359.92 L338.34 359.73 L342.82 359.5 L347.47 359.24 L352.27 358.96 L357.22 358.66 L362.31 358.35 L367.54 358.04 L372.9 357.73 L378.38 357.42 L383.98 357.13 L389.69 356.87 L395.58 356.62 L401.68 356.37 L407.95 356.13 L414.36 355.9 L420.88 355.67 L427.45 355.45 L434.05 355.23 L440.64 355.03 L447.18 354.82 L453.63 354.63 L459.83 354.44 L465.72 354.26 L471.44 354.08 L477.12 353.91 L482.88 353.75 L488.86 353.59 L495.19 353.44 L502 353.3 L509.42 353.16 L517.57 353.03 L527.03 352.9 L537.99 352.78 L549.98 352.67 L562.56 352.55 L575.27 352.45 L587.67 352.36 L599.29 352.27 L609.68 352.19 L618.4 352.13 L624.99 352.07" fill="none" stroke="#000" stroke-width="4.2" stroke-linejoin="round"  />
<path d="M97.03 435.41 L97.3 434.27 L97.64 432.81 L98.03 431.09 L98.47 429.17 L98.96 427.08 L99.48 424.89 L100.04 422.64 L100.63 420.39 L101.23 418.2 L101.85 416.1 L102.47 414.07 L103.09 412.04 L103.71 409.99 L104.36 407.93 L105.05 405.84 L105.79 403.73 L106.6 401.58 L107.49 399.39 L108.48 397.15 L109.58 394.86 L110.8 392.49 L112.15 390 L113.61 387.44 L115.15 384.83 L116.75 382.2 L118.4 379.58 L120.07 376.99 L121.75 374.48 L123.4 372.06 L125.02 369.77 L126.63 367.58 L128.25 365.44 L129.9 363.37 L131.56 361.35 L133.22 359.39 L134.89 357.49 L136.55 355.65 L138.19 353.86 L139.82 352.13 L141.43 350.46 L143 348.87 L144.55 347.36 L146.07 345.92 L147.58 344.55 L149.09 343.22 L150.6 341.94 L152.13 340.68 L153.68 339.44 L155.25 338.2 L156.87 336.95 L158.56 335.69 L160.32 334.43 L162.13 333.18 L163.96 331.95 L165.8 330.74 L167.62 329.56 L169.4 328.43 L171.11 327.34 L172.74 326.32 L174.25 325.37 L175.59 324.51 L176.75 323.75 L177.78 323.08 L178.74 322.46 L179.68 321.87 L180.64 321.29 L181.69 320.7 L182.86 320.07 L184.23 319.38 L185.83 318.61 L187.66 317.76 L189.66 316.86 L191.81 315.93 L194.08 314.96 L196.45 313.96 L198.9 312.96 L201.4 311.94 L203.93 310.93 L206.47 309.94 L209 308.96 L211.5 307.99 L214 307.01 L216.52 306.03 L219.07 305.05 L221.67 304.07 L224.33 303.1 L227.08 302.13 L229.94 301.17 L232.91 300.23 L236.02 299.31 L239.33 298.38 L242.86 297.46 L246.56 296.54 L250.37 295.62 L254.24 294.72 L258.12 293.84 L261.96 292.98 L265.71 292.15 L269.3 291.36 L272.7 290.62 L275.88 289.92 L278.86 289.27 L281.71 288.67 L284.47 288.09 L287.18 287.54 L289.89 287 L292.65 286.47 L295.5 285.94 L298.49 285.39 L301.66 284.83 L304.95 284.24 L308.27 283.64 L311.63 283.04 L315.07 282.44 L318.6 281.84 L322.24 281.25 L326.01 280.66 L329.94 280.1 L334.04 279.55 L338.34 279.03 L342.82 278.54 L347.47 278.07 L352.27 277.62 L357.22 277.19 L362.31 276.77 L367.54 276.35 L372.9 275.95 L378.38 275.54 L383.98 275.13 L389.69 274.71 L395.51 274.27 L401.42 273.83 L407.45 273.39 L413.6 272.94 L419.88 272.5 L426.3 272.07 L432.88 271.65 L439.62 271.26 L446.53 270.89 L453.63 270.55 L460.96 270.24 L468.54 269.96 L476.33 269.7 L484.3 269.46 L492.39 269.23 L500.59 269.02 L508.84 268.83 L517.11 268.65 L525.36 268.48 L533.55 268.31 L542.11 268.16 L551.3 268.02 L560.87 267.9 L570.56 267.79 L580.11 267.69 L589.26 267.61 L597.75 267.53 L605.32 267.46 L611.72 267.4 L616.68 267.35" fill="none" stroke="#000" stroke-width="4.2" stroke-linejoin="round" stroke-dasharray="40 11 16 11 16 11" />
<path d="M96.06 437.34 L96.17 436.72 L96.31 436.04 L96.47 435.26 L96.65 434.37 L96.85 433.35 L97.06 432.19 L97.28 430.87 L97.51 429.37 L97.75 427.67 L97.99 425.75 L98.23 423.55 L98.46 421.04 L98.7 418.28 L98.94 415.33 L99.2 412.24 L99.47 409.07 L99.78 405.89 L100.11 402.74 L100.48 399.69 L100.89 396.8 L101.34 394.02 L101.83 391.3 L102.35 388.61 L102.9 385.94 L103.48 383.28 L104.08 380.63 L104.71 377.96 L105.35 375.27 L106.01 372.54 L106.68 369.77 L107.36 366.93 L108.04 364.04 L108.73 361.1 L109.44 358.14 L110.18 355.17 L110.94 352.21 L111.74 349.28 L112.58 346.39 L113.46 343.56 L114.4 340.81 L115.39 338.14 L116.44 335.51 L117.53 332.94 L118.66 330.4 L119.83 327.9 L121.03 325.43 L122.25 322.98 L123.48 320.55 L124.73 318.13 L125.98 315.71 L127.25 313.31 L128.53 310.93 L129.84 308.56 L131.16 306.22 L132.5 303.89 L133.86 301.58 L135.24 299.3 L136.64 297.03 L138.06 294.78 L139.5 292.55 L140.94 290.34 L142.37 288.15 L143.81 285.97 L145.26 283.82 L146.74 281.69 L148.25 279.58 L149.82 277.48 L151.45 275.41 L153.15 273.35 L154.94 271.31 L156.83 269.28 L158.82 267.25 L160.89 265.23 L163.02 263.22 L165.2 261.24 L167.41 259.29 L169.62 257.38 L171.84 255.53 L174.03 253.73 L176.18 252.01 L178.28 250.36 L180.36 248.77 L182.43 247.25 L184.49 245.78 L186.55 244.35 L188.64 242.95 L190.76 241.58 L192.92 240.22 L195.13 238.88 L197.41 237.53 L199.77 236.18 L202.19 234.85 L204.66 233.53 L207.17 232.23 L209.72 230.95 L212.29 229.7 L214.86 228.47 L217.43 227.27 L219.98 226.11 L222.51 224.98 L225.02 223.89 L227.53 222.85 L230.04 221.84 L232.55 220.86 L235.06 219.91 L237.57 218.98 L240.08 218.06 L242.59 217.15 L245.1 216.24 L247.61 215.33 L250.12 214.4 L252.63 213.47 L255.14 212.53 L257.64 211.6 L260.15 210.68 L262.66 209.79 L265.17 208.93 L267.68 208.12 L270.19 207.35 L272.7 206.64 L275.2 206 L277.69 205.43 L280.17 204.91 L282.65 204.43 L285.13 203.99 L287.62 203.56 L290.13 203.14 L292.66 202.72 L295.21 202.28 L297.8 201.81 L300.48 201.32 L303.3 200.82 L306.19 200.31 L309.12 199.79 L312.04 199.28 L314.9 198.78 L317.65 198.29 L320.25 197.83 L322.66 197.39 L324.83 196.99 L326.55 196.63 L327.79 196.32 L328.68 196.05 L329.39 195.8 L330.06 195.56 L330.86 195.31 L331.93 195.06 L333.43 194.78 L335.52 194.46 L338.34 194.09 L341.89 193.67 L345.99 193.2 L350.57 192.69 L355.55 192.16 L360.86 191.62 L366.43 191.07 L372.17 190.53 L378.01 190 L383.88 189.49 L389.69 189.03 L395.51 188.59 L401.42 188.16 L407.45 187.75 L413.6 187.34 L419.88 186.95 L426.3 186.58 L432.88 186.21 L439.62 185.86 L446.53 185.52 L453.63 185.19 L460.92 184.88 L468.41 184.58 L476.07 184.3 L483.9 184.03 L491.88 183.77 L499.99 183.53 L508.23 183.29 L516.58 183.06 L525.02 182.85 L533.55 182.63 L542.64 182.43 L552.57 182.23 L563.02 182.03 L573.69 181.85 L584.27 181.68 L594.45 181.51 L603.92 181.37 L612.37 181.24 L619.5 181.13 L624.99 181.04" fill="none" stroke="#000" stroke-width="4.2" stroke-linejoin="round" stroke-dasharray="16 10" />
<path d="M96.64 437.34 L96.78 437.08 L96.95 436.86 L97.15 436.63 L97.37 436.36 L97.62 436.01 L97.88 435.53 L98.15 434.88 L98.42 434.03 L98.69 432.93 L98.96 431.54 L99.22 429.83 L99.5 427.82 L99.78 425.56 L100.07 423.08 L100.37 420.44 L100.67 417.69 L100.97 414.87 L101.26 412.02 L101.56 409.2 L101.85 406.45 L102.14 403.7 L102.43 400.87 L102.72 397.98 L103.01 395.05 L103.3 392.09 L103.59 389.12 L103.88 386.16 L104.17 383.22 L104.46 380.33 L104.75 377.49 L105.04 374.7 L105.33 371.93 L105.62 369.18 L105.91 366.45 L106.2 363.74 L106.49 361.04 L106.78 358.37 L107.07 355.71 L107.36 353.08 L107.64 350.46 L107.93 347.88 L108.21 345.32 L108.48 342.79 L108.76 340.29 L109.03 337.79 L109.31 335.31 L109.6 332.83 L109.9 330.36 L110.21 327.87 L110.54 325.37 L110.88 322.85 L111.24 320.32 L111.6 317.78 L111.97 315.24 L112.35 312.7 L112.74 310.17 L113.14 307.66 L113.55 305.17 L113.97 302.7 L114.4 300.27 L114.84 297.88 L115.29 295.54 L115.75 293.24 L116.22 290.96 L116.69 288.69 L117.18 286.42 L117.68 284.14 L118.19 281.83 L118.7 279.49 L119.23 277.1 L119.76 274.67 L120.31 272.21 L120.86 269.72 L121.43 267.2 L122 264.68 L122.59 262.14 L123.18 259.6 L123.78 257.06 L124.4 254.53 L125.02 252.01 L125.65 249.49 L126.29 246.96 L126.94 244.42 L127.61 241.88 L128.28 239.34 L128.96 236.81 L129.65 234.3 L130.35 231.81 L131.06 229.34 L131.78 226.91 L132.5 224.51 L133.23 222.12 L133.96 219.76 L134.7 217.41 L135.46 215.09 L136.22 212.78 L137.01 210.49 L137.81 208.22 L138.64 205.97 L139.5 203.75 L140.39 201.53 L141.31 199.31 L142.25 197.11 L143.22 194.93 L144.2 192.77 L145.2 190.63 L146.19 188.54 L147.19 186.48 L148.18 184.47 L149.15 182.51 L150.11 180.61 L151.05 178.76 L151.99 176.95 L152.92 175.19 L153.86 173.46 L154.8 171.76 L155.77 170.08 L156.75 168.42 L157.76 166.78 L158.8 165.14 L159.87 163.52 L160.93 161.95 L162.01 160.42 L163.11 158.91 L164.23 157.41 L165.38 155.92 L166.57 154.41 L167.79 152.87 L169.06 151.31 L170.39 149.69 L171.77 148.02 L173.2 146.31 L174.67 144.56 L176.19 142.79 L177.75 141 L179.33 139.22 L180.93 137.45 L182.56 135.7 L184.19 133.98 L185.83 132.32 L187.49 130.68 L189.18 129.06 L190.9 127.45 L192.64 125.86 L194.4 124.29 L196.16 122.75 L197.93 121.23 L199.7 119.75 L201.46 118.29 L203.2 116.87 L204.94 115.49 L206.68 114.15 L208.42 112.83 L210.15 111.55 L211.89 110.3 L213.63 109.07 L215.37 107.86 L217.1 106.66 L218.84 105.49 L220.58 104.32 L222.3 103.18 L223.99 102.06 L225.67 100.97 L227.34 99.89 L229.03 98.83 L230.73 97.79 L232.46 96.76 L234.23 95.74 L236.06 94.72 L237.95 93.71 L239.91 92.7 L241.92 91.7 L243.98 90.71 L246.08 89.73 L248.21 88.76 L250.37 87.8 L252.56 86.85 L254.76 85.91 L256.97 84.98 L259.19 84.05 L261.44 83.13 L263.76 82.21 L266.12 81.29 L268.5 80.37 L270.89 79.47 L273.27 78.59 L275.63 77.73 L277.94 76.9 L280.19 76.11 L282.36 75.37 L284.44 74.67 L286.46 74.01 L288.43 73.39 L290.36 72.8 L292.25 72.23 L294.12 71.68 L295.99 71.15 L297.86 70.63 L299.75 70.1 L301.66 69.58 L303.6 69.04 L305.55 68.52 L307.51 68 L309.47 67.48 L311.43 66.98 L313.38 66.49 L315.32 66.02 L317.23 65.58 L319.11 65.15 L320.97 64.75 L322.48 64.44 L323.51 64.27 L324.24 64.17 L324.89 64.11 L325.65 64.04 L326.73 63.91 L328.34 63.67 L330.68 63.28 L333.94 62.69 L338.34 61.85 L344.09 60.69 L351.09 59.21 L359.1 57.49 L367.85 55.6 L377.09 53.63 L386.56 51.65 L396.01 49.73 L405.18 47.96 L413.82 46.42 L421.66 45.17 L428.84 44.19 L435.69 43.38 L442.27 42.73 L448.63 42.21 L454.84 41.79 L460.96 41.44 L467.03 41.15 L473.12 40.89 L479.29 40.64 L485.6 40.37 L491.94 40.12 L498.2 39.92 L504.42 39.77 L510.62 39.66 L516.85 39.59 L523.14 39.54 L529.51 39.51 L536.02 39.48 L542.68 39.45 L549.54 39.41 L556.96 39.37 L565.1 39.35 L573.7 39.34 L582.51 39.34 L591.26 39.35 L599.69 39.37 L607.54 39.38 L614.54 39.4 L620.45 39.41 L624.99 39.41" fill="none" stroke="#000" stroke-width="4.2" stroke-linejoin="round" stroke-dasharray="7 5" />
<path d="M86 437 L99 437" fill="none" stroke="#000" stroke-width="5" stroke-linejoin="round"  />
<circle cx="338.3" cy="61.9" r="8.2" fill="#ff0000"/>
<circle cx="338.3" cy="194.1" r="8.2" fill="#ff0000"/>
<circle cx="338.3" cy="279" r="8.2" fill="#ff0000"/>
<circle cx="338.3" cy="359.7" r="8.2" fill="#ff0000"/>
<text x="141.54" y="415.71" font-size="28.78" font-style="italic" textLength="10.76" lengthAdjust="spacingAndGlyphs" font-family='"Liberation Serif", "Times New Roman", serif'>τ</text>
<text x="152.16" y="419.81" font-size="18.67" font-weight="bold" textLength="9.79" lengthAdjust="spacingAndGlyphs" font-family='"Liberation Serif", "Times New Roman", serif'>0</text>
<line x1="139.9" y1="414" x2="114.74" y2="427.88" stroke="#000" stroke-width="2.8" />
<path d="M100.2 435.9 L113.35 421.22 L119.63 432.61 Z" fill="#000"/>
<rect x="356.6" y="60.75" width="262.8" height="113.25" fill="#fff" stroke="#222" stroke-width="1.6" />
<path d="M492.2 78.3 L549.7 78.3" fill="none" stroke="#000" stroke-width="2.2" stroke-linejoin="round"  />
<path d="M492.2 104.8 L549.7 104.8" fill="none" stroke="#000" stroke-width="2.2" stroke-linejoin="round" stroke-dasharray="22 5 8.5 5 8.5 5" />
<path d="M492.2 132 L549.7 132" fill="none" stroke="#000" stroke-width="2.2" stroke-linejoin="round" stroke-dasharray="9 5" />
<path d="M492.2 159.5 L549.7 159.5" fill="none" stroke="#000" stroke-width="2.2" stroke-linejoin="round" stroke-dasharray="3 2.2" />
<text x="364.86" y="88.4" font-size="26.5" font-weight="bold" textLength="121.85" lengthAdjust="spacingAndGlyphs">Expected</text>
<text x="383.93" y="115.7" font-size="26.5" font-weight="bold" textLength="103.2" lengthAdjust="spacingAndGlyphs">current:</text>
<text x="559.35" y="86.1" font-size="26.5" font-weight="bold" textLength="42.88" lengthAdjust="spacingAndGlyphs">3 A</text>
<text x="558.95" y="112.5" font-size="26.5" font-weight="bold" textLength="43.3" lengthAdjust="spacingAndGlyphs">6 A</text>
<text x="559" y="139.8" font-size="26.5" font-weight="bold" textLength="43.24" lengthAdjust="spacingAndGlyphs">9 A</text>
<text x="558.26" y="167" font-size="26.5" font-weight="bold" textLength="57.16" lengthAdjust="spacingAndGlyphs">14 A</text>
<path d="M744 437.2 L744.09 437.32 L744.18 437.54 L744.28 437.82 L744.4 438.12 L744.53 438.41 L744.7 438.65 L744.9 438.8 L745.15 438.81 L745.44 438.66 L745.79 438.3 L746.21 437.73 L746.69 436.97 L747.23 436.07 L747.82 435.04 L748.44 433.91 L749.07 432.7 L749.72 431.45 L750.36 430.18 L750.99 428.92 L751.58 427.68 L752.14 426.44 L752.68 425.14 L753.2 423.78 L753.71 422.39 L754.24 420.99 L754.78 419.58 L755.35 418.17 L755.97 416.8 L756.64 415.46 L757.37 414.17 L758.16 412.93 L758.97 411.73 L759.8 410.55 L760.68 409.4 L761.6 408.26 L762.56 407.13 L763.58 406 L764.66 404.87 L765.81 403.74 L767.03 402.59 L768.31 401.42 L769.65 400.25 L771.05 399.08 L772.51 397.91 L774.03 396.74 L775.6 395.57 L777.23 394.41 L778.92 393.26 L780.67 392.12 L782.47 391 L784.33 389.89 L786.22 388.79 L788.17 387.69 L790.18 386.59 L792.24 385.51 L794.38 384.45 L796.59 383.4 L798.87 382.37 L801.24 381.37 L803.71 380.39 L806.27 379.43 L808.94 378.48 L811.7 377.55 L814.55 376.63 L817.46 375.74 L820.43 374.87 L823.45 374.03 L826.5 373.22 L829.58 372.44 L832.66 371.7 L835.76 370.99 L838.89 370.32 L842.04 369.69 L845.24 369.08 L848.47 368.5 L851.75 367.95 L855.09 367.41 L858.49 366.9 L861.95 366.4 L865.48 365.91 L869.14 365.43 L872.96 364.97 L876.88 364.53 L880.88 364.11 L884.91 363.71 L888.93 363.33 L892.89 362.97 L896.77 362.64 L900.52 362.33 L904.09 362.05 L907.47 361.8 L910.67 361.59 L913.74 361.41 L916.73 361.25 L919.66 361.12 L922.58 360.99 L925.53 360.88 L928.56 360.76 L931.69 360.64 L934.98 360.5 L938.41 360.36 L941.92 360.21 L945.5 360.07 L949.14 359.93 L952.84 359.79 L956.57 359.65 L960.33 359.52 L964.11 359.39 L967.89 359.27 L971.66 359.15 L975.28 359.05 L978.69 358.97 L981.98 358.9 L985.25 358.84 L988.62 358.78 L992.17 358.71 L996 358.62 L1000.23 358.51 L1004.96 358.37 L1010.27 358.19 L1016.24 357.95 L1022.8 357.67 L1029.84 357.35 L1037.27 357 L1045 356.64 L1052.91 356.28 L1060.93 355.93 L1068.93 355.61 L1076.84 355.32 L1084.55 355.08 L1091.87 354.88 L1098.82 354.71 L1105.57 354.57 L1112.29 354.45 L1119.15 354.35 L1126.33 354.26 L1134.01 354.17 L1142.35 354.09 L1151.53 354.01 L1161.74 353.92 L1173.71 353.82 L1187.68 353.73 L1203.06 353.63 L1219.25 353.54 L1235.65 353.46 L1251.66 353.38 L1266.69 353.31 L1280.14 353.24 L1291.41 353.19 L1299.91 353.15" fill="none" stroke="#000" stroke-width="4.2" stroke-linejoin="round"  />
<path d="M747.72 437.34 L747.95 436.51 L748.25 435.44 L748.6 434.15 L748.99 432.72 L749.41 431.18 L749.85 429.6 L750.3 428.02 L750.75 426.49 L751.18 425.08 L751.58 423.82 L751.95 422.76 L752.29 421.86 L752.62 421.07 L752.94 420.33 L753.27 419.6 L753.62 418.82 L754 417.94 L754.42 416.9 L754.9 415.67 L755.44 414.17 L756.06 412.39 L756.74 410.37 L757.48 408.15 L758.25 405.78 L759.06 403.31 L759.89 400.78 L760.73 398.24 L761.56 395.73 L762.38 393.3 L763.17 391 L763.93 388.84 L764.68 386.76 L765.42 384.73 L766.16 382.74 L766.91 380.75 L767.66 378.73 L768.43 376.65 L769.22 374.48 L770.04 372.2 L770.89 369.77 L771.76 367.12 L772.63 364.25 L773.52 361.22 L774.42 358.09 L775.35 354.93 L776.31 351.79 L777.3 348.75 L778.33 345.86 L779.41 343.19 L780.54 340.81 L781.72 338.72 L782.93 336.86 L784.19 335.18 L785.48 333.66 L786.81 332.24 L788.19 330.9 L789.59 329.57 L791.04 328.24 L792.53 326.85 L794.05 325.37 L795.61 323.81 L797.19 322.22 L798.8 320.61 L800.45 319 L802.14 317.4 L803.88 315.82 L805.67 314.27 L807.52 312.76 L809.44 311.31 L811.43 309.92 L813.49 308.6 L815.63 307.34 L817.83 306.13 L820.09 304.97 L822.41 303.83 L824.77 302.72 L827.18 301.62 L829.62 300.53 L832.1 299.44 L834.59 298.34 L837.11 297.22 L839.66 296.09 L842.24 294.96 L844.85 293.84 L847.5 292.73 L850.21 291.64 L852.97 290.59 L855.78 289.58 L858.67 288.62 L861.62 287.72 L864.63 286.89 L867.69 286.11 L870.8 285.39 L873.96 284.71 L877.19 284.07 L880.48 283.44 L883.84 282.83 L887.29 282.22 L890.82 281.6 L894.44 280.97 L898.2 280.31 L902.12 279.64 L906.16 278.97 L910.29 278.3 L914.47 277.65 L918.67 277.01 L922.86 276.4 L927 275.82 L931.05 275.28 L934.98 274.79 L938.8 274.35 L942.53 273.95 L946.21 273.59 L949.84 273.26 L953.44 272.97 L957.03 272.69 L960.64 272.43 L964.26 272.18 L967.93 271.94 L971.66 271.7 L975.28 271.47 L978.69 271.25 L981.98 271.05 L985.25 270.87 L988.62 270.7 L992.17 270.54 L996 270.38 L1000.23 270.24 L1004.96 270.1 L1010.27 269.96 L1016.24 269.84 L1022.8 269.74 L1029.84 269.65 L1037.27 269.57 L1045 269.5 L1052.91 269.42 L1060.93 269.34 L1068.93 269.25 L1076.84 269.14 L1084.55 269.01 L1091.9 268.85 L1098.93 268.68 L1105.79 268.49 L1112.62 268.29 L1119.58 268.08 L1126.83 267.87 L1134.52 267.66 L1142.79 267.46 L1151.82 267.26 L1161.74 267.08 L1173.26 266.9 L1186.62 266.72 L1201.27 266.54 L1216.63 266.36 L1232.17 266.19 L1247.33 266.02 L1261.54 265.87 L1274.25 265.74 L1284.91 265.62 L1292.96 265.53" fill="none" stroke="#000" stroke-width="4.2" stroke-linejoin="round" stroke-dasharray="40 11 16 11 16 11" />
<path d="M746.76 437.34 L747.05 436.06 L747.43 434.42 L747.88 432.47 L748.39 430.28 L748.93 427.92 L749.49 425.47 L750.05 423 L750.6 420.56 L751.12 418.24 L751.58 416.1 L752.01 414.09 L752.42 412.12 L752.81 410.17 L753.2 408.24 L753.57 406.33 L753.95 404.42 L754.32 402.53 L754.69 400.63 L755.06 398.72 L755.44 396.8 L755.81 394.93 L756.15 393.18 L756.48 391.49 L756.8 389.81 L757.13 388.11 L757.48 386.32 L757.86 384.42 L758.29 382.34 L758.76 380.05 L759.31 377.49 L759.93 374.61 L760.62 371.44 L761.37 368.02 L762.16 364.42 L762.99 360.72 L763.82 356.97 L764.66 353.23 L765.48 349.57 L766.28 346.05 L767.03 342.74 L767.72 339.62 L768.38 336.61 L769 333.69 L769.61 330.83 L770.22 328.02 L770.85 325.23 L771.5 322.43 L772.2 319.61 L772.96 316.73 L773.78 313.78 L774.68 310.73 L775.61 307.58 L776.59 304.36 L777.61 301.1 L778.67 297.86 L779.76 294.65 L780.88 291.51 L782.03 288.49 L783.21 285.6 L784.4 282.9 L785.6 280.38 L786.8 278.03 L788 275.82 L789.23 273.71 L790.49 271.67 L791.81 269.69 L793.2 267.73 L794.67 265.75 L796.24 263.74 L797.92 261.66 L799.72 259.51 L801.64 257.32 L803.66 255.11 L805.76 252.89 L807.93 250.68 L810.15 248.5 L812.39 246.37 L814.66 244.3 L816.91 242.31 L819.15 240.42 L821.38 238.62 L823.63 236.87 L825.9 235.18 L828.19 233.55 L830.49 231.98 L832.82 230.46 L835.16 229.01 L837.53 227.61 L839.91 226.26 L842.32 224.98 L844.74 223.78 L847.18 222.66 L849.64 221.63 L852.12 220.66 L854.62 219.73 L857.14 218.84 L859.68 217.97 L862.24 217.1 L864.82 216.23 L867.41 215.33 L869.98 214.42 L872.48 213.52 L874.95 212.64 L877.44 211.77 L879.96 210.9 L882.56 210.04 L885.28 209.19 L888.14 208.34 L891.18 207.49 L894.44 206.64 L897.96 205.78 L901.75 204.91 L905.73 204.02 L909.87 203.14 L914.11 202.27 L918.39 201.42 L922.68 200.59 L926.9 199.8 L931.02 199.04 L934.98 198.34 L938.8 197.68 L942.53 197.06 L946.21 196.48 L949.84 195.92 L953.44 195.4 L957.03 194.9 L960.64 194.42 L964.26 193.97 L967.93 193.54 L971.66 193.13 L975.28 192.74 L978.69 192.37 L981.98 192.03 L985.25 191.72 L988.62 191.42 L992.17 191.15 L996 190.9 L1000.23 190.66 L1004.96 190.44 L1010.27 190.23 L1016.24 190.06 L1022.8 189.93 L1029.84 189.83 L1037.27 189.75 L1045 189.69 L1052.91 189.62 L1060.93 189.54 L1068.93 189.44 L1076.84 189.3 L1084.55 189.12 L1092.15 188.88 L1099.8 188.6 L1107.49 188.29 L1115.21 187.95 L1122.96 187.6 L1130.72 187.25 L1138.49 186.9 L1146.25 186.58 L1154 186.28 L1161.74 186.03 L1169.53 185.81 L1177.43 185.6 L1185.4 185.42 L1193.39 185.24 L1201.35 185.09 L1209.22 184.94 L1216.96 184.81 L1224.53 184.69 L1231.86 184.59 L1238.93 184.48 L1245.96 184.4 L1253.14 184.33 L1260.33 184.27 L1267.41 184.23 L1274.24 184.2 L1280.68 184.17 L1286.61 184.15 L1291.87 184.13 L1296.35 184.12 L1299.91 184.1" fill="none" stroke="#000" stroke-width="4.2" stroke-linejoin="round" stroke-dasharray="16 10" />
<path d="M746.76 437.34 L747 436.11 L747.31 434.57 L747.69 432.77 L748.12 430.74 L748.57 428.53 L749.03 426.17 L749.48 423.71 L749.91 421.18 L750.29 418.63 L750.62 416.1 L750.89 413.56 L751.13 410.96 L751.34 408.28 L751.53 405.54 L751.7 402.71 L751.87 399.79 L752.03 396.78 L752.19 393.68 L752.36 390.46 L752.55 387.14 L752.74 383.67 L752.93 380.04 L753.13 376.27 L753.32 372.39 L753.51 368.44 L753.71 364.44 L753.9 360.42 L754.09 356.41 L754.29 352.44 L754.48 348.53 L754.67 344.67 L754.86 340.81 L755.06 336.95 L755.25 333.09 L755.44 329.23 L755.64 325.37 L755.83 321.51 L756.02 317.64 L756.22 313.78 L756.41 309.92 L756.6 306.06 L756.8 302.2 L756.99 298.34 L757.18 294.48 L757.37 290.62 L757.57 286.76 L757.76 282.9 L757.95 279.03 L758.15 275.17 L758.34 271.31 L758.53 267.41 L758.73 263.44 L758.92 259.43 L759.11 255.41 L759.31 251.4 L759.5 247.45 L759.69 243.58 L759.88 239.81 L760.08 236.17 L760.27 232.7 L760.45 229.41 L760.63 226.26 L760.79 223.25 L760.95 220.33 L761.11 217.5 L761.29 214.73 L761.48 211.99 L761.69 209.26 L761.93 206.52 L762.2 203.75 L762.5 200.95 L762.82 198.15 L763.16 195.37 L763.51 192.61 L763.89 189.87 L764.29 187.16 L764.7 184.48 L765.14 181.85 L765.59 179.26 L766.06 176.72 L766.55 174.22 L767.05 171.76 L767.57 169.33 L768.1 166.94 L768.66 164.59 L769.24 162.29 L769.84 160.03 L770.48 157.81 L771.15 155.66 L771.85 153.55 L772.59 151.51 L773.36 149.51 L774.16 147.57 L774.98 145.68 L775.83 143.84 L776.72 142.04 L777.63 140.28 L778.57 138.56 L779.54 136.87 L780.54 135.21 L781.56 133.6 L782.61 132.04 L783.68 130.52 L784.78 129.05 L785.91 127.61 L787.07 126.2 L788.27 124.81 L789.51 123.44 L790.8 122.09 L792.12 120.73 L793.49 119.39 L794.9 118.05 L796.35 116.74 L797.84 115.44 L799.36 114.16 L800.93 112.9 L802.53 111.68 L804.17 110.48 L805.85 109.31 L807.57 108.19 L809.33 107.11 L811.15 106.08 L813.01 105.11 L814.92 104.16 L816.86 103.24 L818.83 102.32 L820.82 101.41 L822.83 100.48 L824.85 99.52 L826.87 98.53 L828.91 97.5 L830.97 96.44 L833.04 95.36 L835.14 94.26 L837.25 93.16 L839.38 92.07 L841.53 90.99 L843.71 89.93 L845.9 88.9 L848.11 87.92 L850.33 86.96 L852.56 86.02 L854.79 85.11 L857.05 84.21 L859.33 83.33 L861.64 82.47 L863.98 81.63 L866.36 80.81 L868.79 80.01 L871.27 79.23 L873.78 78.48 L876.28 77.76 L878.79 77.07 L881.34 76.4 L883.94 75.75 L886.61 75.11 L889.36 74.47 L892.22 73.82 L895.19 73.15 L898.3 72.47 L901.62 71.76 L905.17 71.02 L908.9 70.27 L912.74 69.51 L916.64 68.75 L920.54 68.01 L924.38 67.28 L928.11 66.59 L931.66 65.93 L934.98 65.33 L938.07 64.78 L940.97 64.27 L943.74 63.81 L946.39 63.38 L948.98 62.96 L951.52 62.56 L954.06 62.16 L956.63 61.76 L959.27 61.34 L962.01 60.89 L964.53 60.42 L966.64 59.95 L968.52 59.47 L970.35 58.98 L972.33 58.49 L974.64 58 L977.47 57.51 L981.01 57.03 L985.44 56.54 L990.97 56.06 L997.78 55.6 L1005.81 55.16 L1014.81 54.74 L1024.53 54.32 L1034.74 53.9 L1045.19 53.46 L1055.64 53 L1065.85 52.49 L1075.56 51.94 L1084.55 51.33 L1092.93 50.64 L1101.03 49.85 L1108.91 49 L1116.6 48.11 L1124.17 47.2 L1131.65 46.3 L1139.1 45.42 L1146.56 44.61 L1154.09 43.86 L1161.74 43.23 L1169.53 42.68 L1177.43 42.21 L1185.4 41.8 L1193.39 41.43 L1201.35 41.1 L1209.22 40.81 L1216.96 40.54 L1224.53 40.27 L1231.86 40.02 L1238.93 39.75 L1245.96 39.49 L1253.14 39.24 L1260.33 39 L1267.41 38.78 L1274.24 38.57 L1280.68 38.38 L1286.61 38.21 L1291.87 38.06 L1296.35 37.93 L1299.91 37.82" fill="none" stroke="#000" stroke-width="4.2" stroke-linejoin="round" stroke-dasharray="7 5" />
<circle cx="934.6" cy="65.3" r="8.2" fill="#ff0000"/>
<circle cx="934.6" cy="198.3" r="8.2" fill="#ff0000"/>
<circle cx="934.6" cy="274.8" r="8.2" fill="#ff0000"/>
<circle cx="934.6" cy="356.6" r="8.2" fill="#ff0000"/>
<text x="795.34" y="415.81" font-size="28.78" font-style="italic" textLength="10.76" lengthAdjust="spacingAndGlyphs" font-family='"Liberation Serif", "Times New Roman", serif'>τ</text>
<text x="805.96" y="419.91" font-size="18.67" font-weight="bold" textLength="9.79" lengthAdjust="spacingAndGlyphs" font-family='"Liberation Serif", "Times New Roman", serif'>0</text>
<line x1="793.1" y1="413.2" x2="765.96" y2="428.96" stroke="#000" stroke-width="2.8" />
<path d="M751.6 437.3 L764.42 422.34 L770.95 433.58 Z" fill="#000"/>
<rect x="1028.6" y="59.75" width="262.8" height="113.25" fill="#fff" stroke="#222" stroke-width="1.6" />
<path d="M1164.2 77.3 L1221.7 77.3" fill="none" stroke="#000" stroke-width="2.2" stroke-linejoin="round"  />
<path d="M1164.2 103.8 L1221.7 103.8" fill="none" stroke="#000" stroke-width="2.2" stroke-linejoin="round" stroke-dasharray="22 5 8.5 5 8.5 5" />
<path d="M1164.2 131 L1221.7 131" fill="none" stroke="#000" stroke-width="2.2" stroke-linejoin="round" stroke-dasharray="9 5" />
<path d="M1164.2 158.5 L1221.7 158.5" fill="none" stroke="#000" stroke-width="2.2" stroke-linejoin="round" stroke-dasharray="3 2.2" />
<text x="1036.86" y="87.4" font-size="26.5" font-weight="bold" textLength="121.85" lengthAdjust="spacingAndGlyphs">Expected</text>
<text x="1055.93" y="114.7" font-size="26.5" font-weight="bold" textLength="103.2" lengthAdjust="spacingAndGlyphs">current:</text>
<text x="1231.35" y="85.1" font-size="26.5" font-weight="bold" textLength="42.88" lengthAdjust="spacingAndGlyphs">3 A</text>
<text x="1230.95" y="111.5" font-size="26.5" font-weight="bold" textLength="43.3" lengthAdjust="spacingAndGlyphs">6 A</text>
<text x="1231" y="138.8" font-size="26.5" font-weight="bold" textLength="43.24" lengthAdjust="spacingAndGlyphs">9 A</text>
<text x="1230.26" y="166" font-size="26.5" font-weight="bold" textLength="57.16" lengthAdjust="spacingAndGlyphs">14 A</text>
<path d="M1440.89 437.72 L1441 435.82 L1441.15 433.34 L1441.33 430.38 L1441.52 427.07 L1441.73 423.53 L1441.95 419.87 L1442.18 416.22 L1442.4 412.68 L1442.62 409.39 L1442.82 406.45 L1443.01 403.9 L1443.19 401.64 L1443.37 399.57 L1443.54 397.62 L1443.72 395.69 L1443.91 393.69 L1444.1 391.54 L1444.3 389.14 L1444.52 386.42 L1444.75 383.28 L1445 379.61 L1445.28 375.42 L1445.58 370.85 L1445.88 366.03 L1446.2 361.08 L1446.51 356.13 L1446.82 351.31 L1447.11 346.74 L1447.39 342.56 L1447.64 338.88 L1447.87 335.74 L1448.08 333.01 L1448.26 330.61 L1448.44 328.46 L1448.61 326.45 L1448.78 324.52 L1448.96 322.56 L1449.14 320.5 L1449.35 318.25 L1449.58 315.71 L1449.82 312.95 L1450.08 310.06 L1450.34 307.08 L1450.62 304.01 L1450.9 300.87 L1451.2 297.69 L1451.5 294.48 L1451.81 291.25 L1452.14 288.03 L1452.47 284.83 L1452.83 281.56 L1453.21 278.17 L1453.62 274.7 L1454.04 271.19 L1454.46 267.69 L1454.88 264.25 L1455.29 260.92 L1455.67 257.74 L1456.02 254.75 L1456.33 252.01 L1456.61 249.55 L1456.85 247.34 L1457.07 245.34 L1457.26 243.5 L1457.44 241.75 L1457.61 240.05 L1457.77 238.35 L1457.93 236.59 L1458.09 234.73 L1458.26 232.7 L1458.44 230.41 L1458.61 227.85 L1458.78 225.12 L1458.95 222.32 L1459.11 219.55 L1459.26 216.9 L1459.41 214.48 L1459.55 212.38 L1459.69 210.7 L1459.81 209.54 L1459.91 208.76 L1460 208.19 L1460.08 207.87 L1460.15 207.82 L1460.22 208.09 L1460.28 208.7 L1460.34 209.7 L1460.41 211.11 L1460.49 212.98 L1460.58 215.33 L1460.68 218.27 L1460.79 221.81 L1460.91 225.88 L1461.03 230.39 L1461.16 235.24 L1461.28 240.35 L1461.41 245.63 L1461.52 251 L1461.64 256.38 L1461.74 261.66 L1461.82 267.11 L1461.89 272.97 L1461.94 279.1 L1461.99 285.38 L1462.04 291.7 L1462.09 297.94 L1462.16 303.96 L1462.25 309.66 L1462.36 314.9 L1462.51 319.58 L1462.68 323.71 L1462.86 327.47 L1463.06 330.88 L1463.28 333.98 L1463.51 336.83 L1463.77 339.45 L1464.04 341.89 L1464.34 344.19 L1464.67 346.39 L1465.02 348.53 L1465.38 350.53 L1465.73 352.3 L1466.08 353.87 L1466.46 355.28 L1466.87 356.56 L1467.32 357.73 L1467.83 358.83 L1468.41 359.9 L1469.08 360.96 L1469.85 362.05 L1470.67 363.13 L1471.51 364.18 L1472.4 365.18 L1473.34 366.13 L1474.37 367.03 L1475.5 367.88 L1476.75 368.68 L1478.14 369.42 L1479.69 370.11 L1481.43 370.73 L1483.24 371.29 L1485.06 371.78 L1486.93 372.2 L1488.92 372.57 L1491.08 372.88 L1493.47 373.16 L1496.16 373.4 L1499.19 373.62 L1502.63 373.82 L1506.53 374.02 L1510.59 374.19 L1514.61 374.31 L1518.73 374.41 L1523.12 374.47 L1527.95 374.51 L1533.39 374.53 L1539.59 374.55 L1546.72 374.56 L1554.95 374.57 L1564.44 374.59 L1574.93 374.62 L1586.12 374.63 L1598.07 374.63 L1610.88 374.63 L1624.61 374.62 L1639.36 374.61 L1655.19 374.6 L1672.19 374.6 L1690.43 374.59 L1710 374.59 L1732.51 374.6 L1758.78 374.61 L1787.68 374.63 L1818.1 374.64 L1848.91 374.66 L1878.99 374.67 L1907.23 374.69 L1932.49 374.7 L1953.66 374.71 L1969.62 374.72" fill="none" stroke="#000" stroke-width="4.2" stroke-linejoin="round"  />
<path d="M1458.26 232.7 L1458.39 231.61 L1458.53 230.29 L1458.69 228.76 L1458.87 227.02 L1459.08 225.1 L1459.32 223.02 L1459.58 220.79 L1459.88 218.43 L1460.21 215.96 L1460.58 213.4 L1460.99 210.63 L1461.46 207.58 L1461.96 204.3 L1462.5 200.87 L1463.06 197.35 L1463.65 193.8 L1464.24 190.28 L1464.83 186.86 L1465.41 183.61 L1465.98 180.58 L1466.55 177.74 L1467.12 175 L1467.69 172.36 L1468.27 169.8 L1468.86 167.31 L1469.44 164.87 L1470.03 162.48 L1470.61 160.13 L1471.2 157.8 L1471.78 155.48 L1472.36 153.18 L1472.94 150.91 L1473.53 148.68 L1474.11 146.48 L1474.7 144.32 L1475.28 142.21 L1475.86 140.14 L1476.43 138.12 L1477 136.16 L1477.57 134.25 L1478.14 132.35 L1478.72 130.44 L1479.31 128.54 L1479.91 126.69 L1480.49 124.9 L1481.05 123.2 L1481.59 121.62 L1482.1 120.18 L1482.56 118.91 L1482.97 117.84 L1483.34 116.96 L1483.66 116.25 L1483.94 115.7 L1484.19 115.29 L1484.41 115 L1484.61 114.83 L1484.79 114.75 L1484.96 114.75 L1485.13 114.82 L1485.29 114.94 L1485.44 115 L1485.58 114.93 L1485.69 114.82 L1485.79 114.78 L1485.88 114.88 L1485.96 115.22 L1486.04 115.88 L1486.11 116.97 L1486.18 118.55 L1486.25 120.73 L1486.33 123.55 L1486.4 126.93 L1486.46 130.79 L1486.52 135.07 L1486.58 139.68 L1486.63 144.55 L1486.69 149.61 L1486.74 154.77 L1486.79 159.97 L1486.83 165.14 L1486.88 170.47 L1486.92 176.16 L1486.96 182.12 L1486.99 188.25 L1487.03 194.45 L1487.06 200.63 L1487.1 206.67 L1487.13 212.49 L1487.17 217.98 L1487.22 223.05 L1487.27 227.78 L1487.31 232.32 L1487.36 236.66 L1487.4 240.81 L1487.45 244.77 L1487.5 248.53 L1487.56 252.1 L1487.63 255.48 L1487.71 258.67 L1487.8 261.66 L1487.89 264.39 L1487.98 266.82 L1488.07 268.99 L1488.16 270.96 L1488.27 272.76 L1488.39 274.45 L1488.54 276.07 L1488.71 277.66 L1488.91 279.28 L1489.15 280.97 L1489.42 282.7 L1489.7 284.42 L1490 286.13 L1490.33 287.79 L1490.68 289.41 L1491.07 290.97 L1491.49 292.47 L1491.95 293.88 L1492.46 295.19 L1493.01 296.41 L1493.6 297.51 L1494.22 298.51 L1494.86 299.42 L1495.54 300.24 L1496.27 300.99 L1497.04 301.69 L1497.87 302.34 L1498.76 302.96 L1499.71 303.55 L1500.73 304.13 L1501.77 304.69 L1502.79 305.2 L1503.81 305.66 L1504.89 306.09 L1506.04 306.48 L1507.31 306.84 L1508.73 307.17 L1510.34 307.47 L1512.17 307.74 L1514.25 307.99 L1516.51 308.21 L1518.88 308.39 L1521.39 308.53 L1524.05 308.63 L1526.92 308.72 L1530 308.78 L1533.33 308.83 L1536.95 308.87 L1540.87 308.91 L1545.14 308.96 L1549.61 309 L1554.2 309.02 L1558.98 309.03 L1564 309.03 L1569.34 309.02 L1575.06 309 L1581.22 308.99 L1587.9 308.97 L1595.15 308.96 L1603.05 308.96 L1611.11 308.95 L1619.01 308.92 L1627.02 308.88 L1635.42 308.84 L1644.51 308.81 L1654.55 308.79 L1665.84 308.78 L1678.66 308.81 L1693.28 308.86 L1710 308.96 L1730.34 309.11 L1754.87 309.32 L1782.41 309.57 L1811.77 309.85 L1841.78 310.14 L1871.25 310.43 L1899.01 310.71 L1923.87 310.96 L1944.66 311.17 L1960.19 311.32" fill="none" stroke="#000" stroke-width="4.2" stroke-linejoin="round" stroke-dasharray="40 11 16 11 16 11" />
<path d="M1465.98 180.58 L1466.45 178.72 L1467.07 176.32 L1467.79 173.46 L1468.61 170.26 L1469.48 166.82 L1470.39 163.25 L1471.29 159.65 L1472.16 156.12 L1472.98 152.76 L1473.71 149.69 L1474.36 146.81 L1474.99 143.95 L1475.59 141.12 L1476.16 138.32 L1476.72 135.57 L1477.27 132.87 L1477.82 130.22 L1478.37 127.64 L1478.93 125.11 L1479.5 122.66 L1480.08 120.27 L1480.66 117.92 L1481.24 115.62 L1481.81 113.38 L1482.39 111.2 L1482.97 109.09 L1483.55 107.05 L1484.13 105.09 L1484.71 103.21 L1485.29 101.43 L1485.86 99.76 L1486.42 98.23 L1486.97 96.81 L1487.51 95.47 L1488.06 94.19 L1488.63 92.95 L1489.2 91.73 L1489.8 90.49 L1490.42 89.23 L1491.08 87.92 L1491.78 86.56 L1492.5 85.2 L1493.26 83.83 L1494.03 82.46 L1494.82 81.1 L1495.62 79.74 L1496.43 78.38 L1497.23 77.04 L1498.02 75.71 L1498.8 74.4 L1499.59 73.09 L1500.39 71.75 L1501.2 70.41 L1502.01 69.08 L1502.82 67.77 L1503.62 66.48 L1504.39 65.23 L1505.14 64.04 L1505.85 62.91 L1506.53 61.85 L1507.16 60.83 L1507.77 59.8 L1508.36 58.79 L1508.92 57.81 L1509.46 56.91 L1509.97 56.08 L1510.45 55.37 L1510.91 54.8 L1511.34 54.37 L1511.74 54.13 L1512.11 54 L1512.44 53.91 L1512.75 53.9 L1513.03 54 L1513.28 54.25 L1513.51 54.69 L1513.72 55.34 L1513.91 56.25 L1514.09 57.44 L1514.25 58.96 L1514.38 60.75 L1514.49 62.74 L1514.57 64.96 L1514.63 67.41 L1514.67 70.12 L1514.7 73.09 L1514.73 76.34 L1514.75 79.88 L1514.78 83.74 L1514.83 87.92 L1514.87 92.53 L1514.91 97.64 L1514.95 103.16 L1514.99 109 L1515.02 115.06 L1515.05 121.27 L1515.09 127.54 L1515.13 133.78 L1515.17 139.91 L1515.21 145.83 L1515.26 151.81 L1515.3 158.09 L1515.35 164.54 L1515.39 171.03 L1515.44 177.44 L1515.49 183.64 L1515.55 189.49 L1515.62 194.88 L1515.7 199.67 L1515.79 203.75 L1515.88 207.02 L1515.97 209.58 L1516.06 211.56 L1516.16 213.07 L1516.26 214.24 L1516.38 215.19 L1516.53 216.04 L1516.7 216.9 L1516.9 217.91 L1517.14 219.19 L1517.41 220.64 L1517.68 222.08 L1517.96 223.51 L1518.27 224.92 L1518.61 226.31 L1518.99 227.67 L1519.41 228.99 L1519.88 230.28 L1520.41 231.52 L1521 232.7 L1521.66 233.85 L1522.39 234.97 L1523.16 236.06 L1523.99 237.12 L1524.86 238.13 L1525.78 239.1 L1526.72 240.01 L1527.69 240.86 L1528.68 241.64 L1529.69 242.36 L1530.68 242.99 L1531.64 243.55 L1532.59 244.04 L1533.56 244.47 L1534.58 244.85 L1535.67 245.19 L1536.86 245.48 L1538.17 245.75 L1539.63 245.99 L1541.27 246.22 L1542.57 246.41 L1543.21 246.55 L1543.52 246.65 L1543.83 246.71 L1544.48 246.75 L1545.81 246.76 L1548.13 246.77 L1551.79 246.77 L1557.11 246.78 L1564.44 246.8 L1573.53 246.81 L1583.89 246.81 L1595.52 246.79 L1608.38 246.76 L1622.44 246.74 L1637.69 246.71 L1654.09 246.7 L1671.63 246.71 L1690.27 246.74 L1710 246.8 L1732.51 246.89 L1758.78 247.02 L1787.68 247.18 L1818.1 247.36 L1848.91 247.55 L1878.99 247.74 L1907.23 247.91 L1932.49 248.07 L1953.66 248.21 L1969.62 248.3" fill="none" stroke="#000" stroke-width="4.2" stroke-linejoin="round" stroke-dasharray="16 10" />
<path d="M1413.86 437.72 L1440.89 437.72" fill="none" stroke="#000" stroke-width="4.5" stroke-linejoin="round"  />
<circle cx="1444.7" cy="383.3" r="8.2" fill="#ff0000"/>
<circle cx="1448.6" cy="316.7" r="8.2" fill="#ff0000"/>
<circle cx="1455.9" cy="252" r="8.2" fill="#ff0000"/>
<text x="1486.54" y="417.71" font-size="28.78" font-style="italic" textLength="10.76" lengthAdjust="spacingAndGlyphs" font-family='"Liberation Serif", "Times New Roman", serif'>τ</text>
<text x="1497.16" y="421.81" font-size="18.67" font-weight="bold" textLength="9.79" lengthAdjust="spacingAndGlyphs" font-family='"Liberation Serif", "Times New Roman", serif'>0</text>
<line x1="1484.3" y1="414.2" x2="1457.44" y2="428.57" stroke="#000" stroke-width="2.8" />
<path d="M1442.8 436.4 L1456.13 421.9 L1462.27 433.36 Z" fill="#000"/>
<rect x="1666.3" y="55.5" width="260.3" height="91.4" fill="#fff" stroke="#222" stroke-width="1.6" />
<path d="M1802.1 74.6 L1859.6 74.6" fill="none" stroke="#000" stroke-width="2.2" stroke-linejoin="round"  />
<path d="M1802.1 101 L1859.6 101" fill="none" stroke="#000" stroke-width="2.2" stroke-linejoin="round" stroke-dasharray="22 5 8.5 5 8.5 5" />
<path d="M1802.1 128.4 L1859.6 128.4" fill="none" stroke="#000" stroke-width="2.2" stroke-linejoin="round" stroke-dasharray="9 5" />
<text x="1675.36" y="85.2" font-size="26.5" font-weight="bold" textLength="121.85" lengthAdjust="spacingAndGlyphs">Expected</text>
<text x="1694.43" y="112.3" font-size="26.5" font-weight="bold" textLength="103.2" lengthAdjust="spacingAndGlyphs">current:</text>
<text x="1875.55" y="82.5" font-size="26.5" font-weight="bold" textLength="42.88" lengthAdjust="spacingAndGlyphs">3 A</text>
<text x="1875.15" y="108.9" font-size="26.5" font-weight="bold" textLength="43.3" lengthAdjust="spacingAndGlyphs">6 A</text>
<text x="1875.2" y="136.3" font-size="26.5" font-weight="bold" textLength="43.24" lengthAdjust="spacingAndGlyphs">9 A</text>
<path d="M93.54 975.53 L93.76 975.13 L94.04 974.65 L94.37 974.1 L94.74 973.48 L95.14 972.78 L95.56 972.01 L95.99 971.16 L96.42 970.25 L96.83 969.25 L97.21 968.19 L97.57 967.06 L97.93 965.87 L98.28 964.61 L98.63 963.28 L98.99 961.88 L99.35 960.39 L99.71 958.81 L100.09 957.15 L100.48 955.38 L100.88 953.5 L101.3 951.48 L101.74 949.29 L102.19 946.96 L102.65 944.53 L103.12 942.03 L103.59 939.49 L104.07 936.95 L104.54 934.44 L105.01 931.99 L105.47 929.64 L105.93 927.33 L106.4 925.02 L106.88 922.72 L107.35 920.43 L107.82 918.16 L108.29 915.93 L108.75 913.75 L109.2 911.63 L109.64 909.58 L110.06 907.61 L110.46 905.74 L110.84 903.98 L111.2 902.3 L111.55 900.69 L111.9 899.12 L112.24 897.56 L112.59 896 L112.95 894.42 L113.33 892.79 L113.73 891.08 L114.15 889.26 L114.56 887.31 L114.98 885.28 L115.41 883.21 L115.86 881.16 L116.31 879.16 L116.78 877.28 L117.27 875.54 L117.78 874.01 L118.32 872.72 L118.85 871.67 L119.36 870.81 L119.85 870.1 L120.36 869.54 L120.9 869.11 L121.49 868.78 L122.16 868.54 L122.9 868.36 L123.76 868.23 L124.75 868.13 L125.87 868.13 L127.1 868.29 L128.43 868.57 L129.85 868.93 L131.35 869.34 L132.9 869.77 L134.5 870.17 L136.13 870.51 L137.78 870.77 L139.43 870.89 L141.08 870.89 L142.72 870.83 L144.38 870.7 L146.07 870.53 L147.81 870.31 L149.61 870.07 L151.5 869.82 L153.48 869.55 L155.57 869.29 L157.79 869.05 L160.18 868.81 L162.71 868.55 L165.38 868.27 L168.15 867.97 L170.99 867.68 L173.88 867.38 L176.78 867.09 L179.68 866.81 L182.54 866.54 L185.33 866.3 L188.09 866.09 L190.84 865.9 L193.59 865.74 L196.35 865.59 L199.1 865.44 L201.85 865.29 L204.61 865.12 L207.36 864.93 L210.12 864.72 L212.87 864.46 L215.62 864.16 L218.38 863.8 L221.13 863.41 L223.89 862.99 L226.64 862.57 L229.39 862.15 L232.15 861.75 L234.9 861.38 L237.65 861.06 L240.41 860.79 L243.12 860.59 L245.77 860.43 L248.38 860.31 L250.98 860.23 L253.6 860.16 L256.27 860.11 L259.01 860.06 L261.85 860.01 L264.82 859.95 L267.95 859.87 L271.14 859.78 L274.31 859.69 L277.51 859.6 L280.79 859.51 L284.19 859.41 L287.76 859.32 L291.55 859.23 L295.6 859.14 L299.95 859.05 L304.66 858.96 L309.33 858.87 L313.67 858.78 L317.94 858.7 L322.38 858.62 L327.22 858.54 L332.71 858.45 L339.09 858.36 L346.6 858.26 L355.49 858.15 L365.98 858.04 L378.7 857.91 L393.72 857.76 L410.51 857.6 L428.52 857.43 L447.23 857.26 L466.09 857.09 L484.57 856.93 L502.13 856.77 L518.22 856.63 L532.32 856.5 L544.95 856.39 L556.95 856.29 L568.29 856.19 L578.89 856.11 L588.72 856.03 L597.72 855.95 L605.83 855.89 L613.01 855.83 L619.19 855.78 L624.33 855.74" fill="none" stroke="#000" stroke-width="4.2" stroke-linejoin="round"  />
<path d="M118.32 872.72 L118.47 871.79 L118.65 870.65 L118.86 869.33 L119.09 867.83 L119.36 866.18 L119.64 864.4 L119.96 862.49 L120.31 860.48 L120.68 858.37 L121.08 856.2 L121.52 853.89 L122 851.37 L122.53 848.69 L123.08 845.89 L123.66 843.01 L124.25 840.08 L124.84 837.14 L125.44 834.23 L126.02 831.39 L126.58 828.66 L127.13 826.02 L127.66 823.41 L128.18 820.82 L128.7 818.25 L129.22 815.7 L129.76 813.15 L130.3 810.61 L130.87 808.07 L131.47 805.52 L132.09 802.96 L132.76 800.34 L133.49 797.64 L134.25 794.9 L135.03 792.15 L135.82 789.42 L136.61 786.75 L137.38 784.16 L138.11 781.69 L138.8 779.38 L139.43 777.26 L139.98 775.29 L140.44 773.43 L140.84 771.67 L141.2 770.02 L141.56 768.48 L141.92 767.06 L142.33 765.75 L142.8 764.57 L143.35 763.51 L144.02 762.57 L144.8 761.81 L145.65 761.23 L146.56 760.81 L147.53 760.52 L148.56 760.33 L149.62 760.21 L150.72 760.13 L151.84 760.06 L152.98 759.97 L154.12 759.82 L155.23 759.67 L156.28 759.58 L157.31 759.52 L158.36 759.5 L159.46 759.47 L160.64 759.44 L161.95 759.39 L163.42 759.29 L165.08 759.13 L166.97 758.9 L169.09 758.59 L171.39 758.22 L173.87 757.79 L176.49 757.33 L179.25 756.83 L182.13 756.32 L185.11 755.8 L188.18 755.29 L191.32 754.79 L194.51 754.31 L197.81 753.85 L201.27 753.39 L204.85 752.93 L208.54 752.47 L212.3 752.02 L216.1 751.56 L219.92 751.1 L223.74 750.64 L227.52 750.18 L231.23 749.72 L234.9 749.25 L238.57 748.77 L242.24 748.29 L245.92 747.8 L249.59 747.31 L253.26 746.83 L256.93 746.37 L260.6 745.93 L264.27 745.52 L267.95 745.13 L271.62 744.78 L275.29 744.46 L278.96 744.17 L282.63 743.9 L286.3 743.64 L289.98 743.39 L293.65 743.15 L297.32 742.9 L300.99 742.64 L304.66 742.38 L308.39 742.1 L312.2 741.81 L316.06 741.52 L319.93 741.23 L323.78 740.94 L327.57 740.66 L331.26 740.38 L334.81 740.12 L338.2 739.86 L341.38 739.62 L343.69 739.41 L344.81 739.23 L345.19 739.08 L345.29 738.93 L345.58 738.79 L346.52 738.64 L348.57 738.48 L352.18 738.29 L357.84 738.06 L365.98 737.79 L377.26 737.46 L391.56 737.08 L408.19 736.66 L426.46 736.21 L445.7 735.74 L465.21 735.28 L484.31 734.83 L502.32 734.4 L518.55 734.02 L532.32 733.69 L544.17 733.4 L555.1 733.14 L565.15 732.9 L574.32 732.68 L582.64 732.48 L590.13 732.31 L596.81 732.15 L602.69 732.01 L607.81 731.89 L612.17 731.79" fill="none" stroke="#000" stroke-width="4.2" stroke-linejoin="round" stroke-dasharray="40 11 16 11 16 11" />
<path d="M144.02 762.57 L144.29 761.49 L144.63 760.1 L145.04 758.47 L145.49 756.64 L145.98 754.65 L146.49 752.57 L147.03 750.43 L147.56 748.3 L148.1 746.21 L148.61 744.21 L149.12 742.27 L149.63 740.29 L150.14 738.29 L150.66 736.27 L151.2 734.23 L151.74 732.18 L152.31 730.13 L152.89 728.09 L153.49 726.05 L154.12 724.02 L154.79 721.96 L155.52 719.83 L156.28 717.67 L157.06 715.5 L157.85 713.35 L158.64 711.24 L159.41 709.21 L160.14 707.28 L160.83 705.47 L161.47 703.82 L162.04 702.35 L162.57 701.03 L163.07 699.84 L163.54 698.76 L163.99 697.74 L164.42 696.77 L164.83 695.82 L165.24 694.87 L165.65 693.87 L166.06 692.81 L166.43 691.67 L166.75 690.47 L167.02 689.24 L167.28 688.01 L167.55 686.78 L167.84 685.6 L168.18 684.49 L168.6 683.47 L169.1 682.56 L169.73 681.79 L170.46 681.18 L171.26 680.7 L172.14 680.33 L173.08 680.05 L174.09 679.84 L175.15 679.68 L176.26 679.54 L177.41 679.4 L178.6 679.24 L179.82 679.04 L181.05 678.85 L182.26 678.72 L183.49 678.62 L184.75 678.55 L186.08 678.47 L187.49 678.36 L189.02 678.2 L190.68 677.97 L192.5 677.64 L194.51 677.2 L196.74 676.63 L199.2 675.95 L201.83 675.17 L204.6 674.32 L207.48 673.42 L210.42 672.49 L213.38 671.56 L216.34 670.64 L219.24 669.76 L222.05 668.94 L224.76 668.19 L227.41 667.47 L230.02 666.79 L232.62 666.12 L235.24 665.44 L237.91 664.76 L240.65 664.04 L243.49 663.29 L246.46 662.48 L249.59 661.6 L252.89 660.63 L256.34 659.56 L259.93 658.42 L263.61 657.24 L267.37 656.03 L271.18 654.84 L275 653.67 L278.81 652.55 L282.59 651.52 L286.3 650.58 L290.02 649.76 L293.8 649 L297.61 648.32 L301.43 647.68 L305.24 647.08 L309 646.51 L312.68 645.94 L316.27 645.37 L319.72 644.78 L323.02 644.16 L326.2 643.5 L329.31 642.81 L332.34 642.11 L335.28 641.41 L338.12 640.72 L340.86 640.04 L343.48 639.39 L345.98 638.78 L348.34 638.23 L350.56 637.73 L352.26 637.33 L353.22 637.02 L353.72 636.78 L354.01 636.59 L354.35 636.42 L355 636.24 L356.23 636.03 L358.3 635.77 L361.46 635.42 L365.98 634.98 L372.04 634.43 L379.48 633.81 L388.02 633.13 L397.39 632.39 L407.34 631.62 L417.59 630.82 L427.87 630.01 L437.93 629.19 L447.48 628.39 L456.27 627.6 L464.4 626.82 L472.18 625.99 L479.72 625.15 L487.08 624.29 L494.36 623.44 L501.63 622.6 L508.98 621.78 L516.49 621.01 L524.24 620.28 L532.32 619.62 L541.12 619 L550.77 618.42 L560.96 617.86 L571.39 617.33 L581.75 616.84 L591.73 616.39 L601.02 615.98 L609.31 615.62 L616.3 615.31 L621.67 615.06" fill="none" stroke="#000" stroke-width="4.2" stroke-linejoin="round" stroke-dasharray="16 10" />
<path d="M66 975.53 L93.54 975.53" fill="none" stroke="#000" stroke-width="4.5" stroke-linejoin="round"  />
<circle cx="118.3" cy="873.6" r="8.2" fill="#ff0000"/>
<circle cx="144" cy="762.6" r="8.2" fill="#ff0000"/>
<circle cx="169.7" cy="681.8" r="8.2" fill="#ff0000"/>
<text x="139.74" y="958.71" font-size="28.78" font-style="italic" textLength="10.76" lengthAdjust="spacingAndGlyphs" font-family='"Liberation Serif", "Times New Roman", serif'>τ</text>
<text x="150.36" y="962.81" font-size="18.67" font-weight="bold" textLength="9.79" lengthAdjust="spacingAndGlyphs" font-family='"Liberation Serif", "Times New Roman", serif'>0</text>
<line x1="137.6" y1="952.6" x2="111.78" y2="966.66" stroke="#000" stroke-width="2.8" />
<path d="M97.2 974.6 L110.43 960 L116.64 971.41 Z" fill="#000"/>
<rect x="238.6" y="865.5" width="377.1" height="102.9" fill="#fff" stroke="#222" stroke-width="1.6" />
<path d="M385.4 884.8 L448.9 884.8" fill="none" stroke="#000" stroke-width="2.2" stroke-linejoin="round"  />
<path d="M385.4 917.8 L448.9 917.8" fill="none" stroke="#000" stroke-width="2.2" stroke-linejoin="round" stroke-dasharray="22 5 8.5 5 8.5 5" />
<path d="M385.4 950.2 L448.9 950.2" fill="none" stroke="#000" stroke-width="2.2" stroke-linejoin="round" stroke-dasharray="9 5" />
<text x="256.58" y="896.2" font-size="26.5" font-weight="bold" textLength="120.82" lengthAdjust="spacingAndGlyphs">Expected</text>
<text x="259.02" y="924" font-size="26.5" font-weight="bold" textLength="118.57" lengthAdjust="spacingAndGlyphs">magnetic</text>
<text x="245.78" y="951.3" font-size="26.5" font-weight="bold" textLength="132.45" lengthAdjust="spacingAndGlyphs">induction:</text>
<text x="468.89" y="893.3" font-size="26.5" font-weight="bold" textLength="131.08" lengthAdjust="spacingAndGlyphs">0.1 T (3 A)</text>
<text x="468.89" y="925.8" font-size="26.5" font-weight="bold" textLength="131.08" lengthAdjust="spacingAndGlyphs">0.2 T (6 A)</text>
<text x="462.11" y="958.1" font-size="26.5" font-weight="bold" textLength="144.65" lengthAdjust="spacingAndGlyphs">0.28 T (9 A)</text>
<path d="M771.21 976.45 L771.32 974.77 L771.46 972.63 L771.63 970.09 L771.81 967.25 L772.01 964.17 L772.22 960.94 L772.44 957.63 L772.65 954.32 L772.85 951.08 L773.05 948 L773.23 944.94 L773.4 941.78 L773.57 938.55 L773.74 935.27 L773.91 931.99 L774.08 928.74 L774.26 925.56 L774.46 922.48 L774.66 919.55 L774.88 916.79 L775.12 914.23 L775.37 911.85 L775.64 909.62 L775.92 907.49 L776.2 905.43 L776.49 903.39 L776.78 901.34 L777.07 899.25 L777.36 897.07 L777.64 894.75 L777.91 892.34 L778.17 889.88 L778.43 887.37 L778.69 884.83 L778.95 882.25 L779.22 879.64 L779.5 877.01 L779.78 874.37 L780.08 871.71 L780.39 869.05 L780.72 866.37 L781.06 863.65 L781.42 860.9 L781.79 858.13 L782.17 855.34 L782.55 852.55 L782.93 849.77 L783.31 846.99 L783.69 844.24 L784.06 841.51 L784.43 838.79 L784.8 836.04 L785.16 833.29 L785.53 830.54 L785.9 827.8 L786.26 825.1 L786.63 822.45 L787 819.85 L787.37 817.33 L787.73 814.89 L788.1 812.56 L788.47 810.3 L788.83 808.13 L789.2 806.01 L789.57 803.94 L789.94 801.9 L790.3 799.87 L790.67 797.86 L791.04 795.83 L791.4 793.78 L791.77 791.7 L792.14 789.6 L792.51 787.48 L792.87 785.37 L793.24 783.28 L793.61 781.22 L793.97 779.21 L794.34 777.26 L794.71 775.38 L795.08 773.59 L795.45 771.88 L795.83 770.24 L796.21 768.66 L796.59 767.14 L796.97 765.67 L797.35 764.25 L797.71 762.86 L798.07 761.51 L798.42 760.2 L798.75 758.9 L799.07 757.58 L799.39 756.23 L799.7 754.86 L800 753.52 L800.3 752.25 L800.58 751.06 L800.84 749.99 L801.08 749.09 L801.3 748.38 L801.5 747.89 L801.67 747.49 L801.81 747.09 L801.93 746.75 L802.03 746.53 L802.11 746.51 L802.18 746.74 L802.24 747.29 L802.3 748.24 L802.36 749.64 L802.42 751.56 L802.48 754.08 L802.53 757.2 L802.58 760.8 L802.62 764.8 L802.65 769.11 L802.68 773.63 L802.71 778.27 L802.73 782.93 L802.76 787.52 L802.79 791.95 L802.81 796.42 L802.83 801.15 L802.85 806.06 L802.86 811.05 L802.88 816.04 L802.89 820.94 L802.91 825.65 L802.92 830.1 L802.95 834.19 L802.97 837.84 L802.99 841.06 L802.99 843.95 L802.99 846.55 L802.99 848.9 L802.99 851.04 L803.01 853 L803.05 854.83 L803.11 856.55 L803.2 858.22 L803.34 859.87 L803.5 861.44 L803.66 862.84 L803.84 864.1 L804.05 865.25 L804.28 866.3 L804.54 867.28 L804.85 868.2 L805.21 869.1 L805.62 869.99 L806.09 870.89 L806.61 871.79 L807.15 872.65 L807.73 873.48 L808.35 874.27 L809.02 875.02 L809.75 875.74 L810.55 876.41 L811.42 877.06 L812.38 877.66 L813.43 878.23 L814.57 878.76 L815.78 879.25 L817.07 879.69 L818.43 880.1 L819.86 880.47 L821.37 880.81 L822.94 881.12 L824.6 881.4 L826.32 881.66 L828.12 881.9 L829.96 882.11 L831.82 882.27 L833.73 882.4 L835.7 882.5 L837.76 882.57 L839.93 882.63 L842.23 882.67 L844.69 882.72 L847.32 882.76 L850.15 882.82 L852.71 882.88 L854.69 882.94 L856.42 882.98 L858.19 883.03 L860.32 883.06 L863.1 883.09 L866.84 883.12 L871.84 883.15 L878.42 883.17 L886.87 883.19 L897.61 883.2 L910.54 883.19 L925.24 883.17 L941.24 883.14 L958.11 883.12 L975.41 883.1 L992.69 883.09 L1009.5 883.1 L1025.42 883.13 L1039.98 883.19 L1053.36 883.28 L1066.09 883.4 L1078.32 883.55 L1090.19 883.71 L1101.84 883.88 L1113.41 884.06 L1125.05 884.24 L1136.89 884.42 L1149.07 884.58 L1161.74 884.72 L1175.46 884.86 L1190.41 885 L1206.13 885.14 L1222.17 885.27 L1238.05 885.4 L1253.32 885.52 L1267.52 885.63 L1280.2 885.73 L1290.89 885.81 L1299.14 885.88" fill="none" stroke="#000" stroke-width="4.2" stroke-linejoin="round"  />
<path d="M801.5 747.89 L801.77 747.02 L802.1 745.9 L802.48 744.59 L802.92 743.11 L803.39 741.52 L803.9 739.84 L804.44 738.13 L804.98 736.43 L805.54 734.77 L806.09 733.2 L806.66 731.68 L807.26 730.17 L807.88 728.64 L808.53 727.11 L809.19 725.57 L809.86 724.01 L810.53 722.44 L811.2 720.85 L811.87 719.23 L812.52 717.59 L813.16 715.91 L813.79 714.18 L814.42 712.41 L815.04 710.62 L815.67 708.82 L816.31 707.02 L816.95 705.24 L817.6 703.49 L818.26 701.79 L818.94 700.15 L819.63 698.57 L820.32 697.04 L821.02 695.54 L821.73 694.08 L822.44 692.64 L823.17 691.21 L823.92 689.78 L824.69 688.36 L825.47 686.92 L826.29 685.47 L827.13 683.99 L828 682.5 L828.9 681 L829.83 679.5 L830.76 678.01 L831.71 676.52 L832.65 675.05 L833.6 673.6 L834.54 672.17 L835.47 670.78 L836.39 669.4 L837.34 668.03 L838.29 666.67 L839.24 665.33 L840.19 664.01 L841.13 662.72 L842.05 661.45 L842.95 660.23 L843.82 659.06 L844.64 657.93 L845.46 656.81 L846.27 655.68 L847.08 654.56 L847.87 653.46 L848.63 652.42 L849.35 651.45 L850.02 650.58 L850.63 649.82 L851.16 649.2 L851.62 648.75 L851.98 648.35 L852.25 647.94 L852.45 647.56 L852.58 647.28 L852.67 647.14 L852.72 647.21 L852.75 647.53 L852.79 648.16 L852.83 649.16 L852.91 650.58 L852.99 652.41 L853.07 654.56 L853.13 657.04 L853.19 659.81 L853.24 662.86 L853.29 666.18 L853.33 669.75 L853.37 673.55 L853.41 677.57 L853.46 681.79 L853.5 686.42 L853.54 691.58 L853.57 697.14 L853.61 702.99 L853.64 708.99 L853.67 715.02 L853.71 720.94 L853.74 726.65 L853.78 732 L853.82 736.87 L853.86 741.43 L853.88 745.89 L853.89 750.22 L853.91 754.38 L853.93 758.33 L853.96 762.03 L854.01 765.44 L854.1 768.53 L854.21 771.26 L854.37 773.59 L854.55 775.4 L854.71 776.69 L854.87 777.53 L855.06 778.04 L855.28 778.29 L855.56 778.39 L855.9 778.43 L856.33 778.49 L856.85 778.68 L857.5 779.09 L858.24 779.66 L859.08 780.24 L859.99 780.83 L860.98 781.43 L862.05 782.02 L863.2 782.6 L864.42 783.15 L865.71 783.68 L867.08 784.16 L868.51 784.6 L869.97 785 L871.42 785.36 L872.9 785.69 L874.44 785.99 L876.08 786.27 L877.85 786.52 L879.78 786.75 L881.91 786.97 L884.26 787.17 L886.87 787.36 L889.44 787.53 L891.76 787.67 L894.03 787.8 L896.41 787.9 L899.1 787.99 L902.28 788.06 L906.14 788.12 L910.85 788.18 L916.61 788.23 L923.59 788.27 L931.98 788.31 L941.68 788.32 L952.48 788.32 L964.15 788.31 L976.47 788.29 L989.21 788.27 L1002.16 788.25 L1015.08 788.24 L1027.77 788.25 L1039.98 788.27 L1051.9 788.31 L1063.84 788.34 L1075.82 788.37 L1087.84 788.4 L1099.93 788.45 L1112.1 788.51 L1124.35 788.59 L1136.69 788.7 L1149.15 788.84 L1161.74 789.01 L1175.07 789.24 L1189.48 789.52 L1204.54 789.86 L1219.84 790.22 L1234.96 790.6 L1249.46 790.97 L1262.94 791.32 L1274.96 791.64 L1285.11 791.9 L1292.96 792.1" fill="none" stroke="#000" stroke-width="4.2" stroke-linejoin="round" stroke-dasharray="40 11 16 11 16 11" />
<path d="M844.64 657.93 L845.18 656.92 L845.86 655.61 L846.67 654.04 L847.57 652.29 L848.55 650.41 L849.58 648.48 L850.65 646.54 L851.72 644.68 L852.79 642.95 L853.82 641.4 L854.85 640.01 L855.91 638.68 L856.99 637.4 L858.1 636.17 L859.22 634.98 L860.35 633.83 L861.48 632.7 L862.61 631.61 L863.73 630.53 L864.84 629.47 L865.94 628.44 L867.04 627.44 L868.14 626.49 L869.25 625.56 L870.35 624.65 L871.45 623.77 L872.55 622.89 L873.65 622.02 L874.75 621.16 L875.85 620.29 L876.99 619.39 L878.19 618.43 L879.42 617.46 L880.66 616.48 L881.88 615.53 L883.06 614.63 L884.17 613.81 L885.2 613.08 L886.1 612.48 L886.87 612.03 L887.49 611.69 L887.98 611.42 L888.36 611.23 L888.65 611.12 L888.88 611.11 L889.05 611.22 L889.19 611.44 L889.32 611.8 L889.46 612.29 L889.62 612.95 L889.79 613.74 L889.92 614.66 L890.03 615.7 L890.12 616.87 L890.2 618.17 L890.26 619.6 L890.32 621.17 L890.39 622.88 L890.46 624.73 L890.54 626.72 L890.63 628.93 L890.71 631.4 L890.79 634.08 L890.86 636.92 L890.94 639.86 L891.03 642.84 L891.12 645.83 L891.22 648.76 L891.33 651.59 L891.46 654.26 L891.59 656.82 L891.72 659.38 L891.86 661.92 L892 664.42 L892.15 666.88 L892.32 669.28 L892.51 671.62 L892.74 673.88 L893 676.05 L893.3 678.12 L893.63 680.11 L893.99 682.04 L894.38 683.91 L894.8 685.7 L895.25 687.42 L895.72 689.05 L896.22 690.59 L896.75 692.05 L897.3 693.4 L897.89 694.64 L898.47 695.77 L899.06 696.77 L899.65 697.67 L900.27 698.46 L900.93 699.18 L901.63 699.82 L902.4 700.41 L903.25 700.96 L904.18 701.48 L905.23 701.99 L906.28 702.47 L907.28 702.89 L908.29 703.27 L909.34 703.6 L910.51 703.88 L911.84 704.13 L913.39 704.33 L915.22 704.5 L917.37 704.64 L919.92 704.74 L922.74 704.8 L925.72 704.81 L928.91 704.78 L932.33 704.7 L936.05 704.59 L940.09 704.46 L944.49 704.31 L949.3 704.15 L954.56 703.98 L960.3 703.82 L966.49 703.65 L973.05 703.45 L979.99 703.23 L987.33 703 L995.06 702.75 L1003.2 702.5 L1011.75 702.26 L1020.72 702.03 L1030.13 701.81 L1039.98 701.62 L1050.38 701.44 L1061.39 701.25 L1072.92 701.07 L1084.9 700.89 L1097.25 700.72 L1109.89 700.57 L1122.73 700.44 L1135.71 700.34 L1148.74 700.27 L1161.74 700.24 L1175.46 700.26 L1190.41 700.33 L1206.13 700.44 L1222.17 700.58 L1238.05 700.73 L1253.32 700.9 L1267.52 701.05 L1280.2 701.2 L1290.89 701.32 L1299.14 701.4" fill="none" stroke="#000" stroke-width="4.2" stroke-linejoin="round" stroke-dasharray="16 10" />
<path d="M743.67 975.53 L771.21 975.53" fill="none" stroke="#000" stroke-width="2.2" stroke-linejoin="round"  />
<circle cx="777.6" cy="895.7" r="8.2" fill="#ff0000"/>
<circle cx="787.7" cy="815.4" r="8.2" fill="#ff0000"/>
<circle cx="812.9" cy="718" r="8.2" fill="#ff0000"/>
<text x="816.44" y="958.71" font-size="28.78" font-style="italic" textLength="10.76" lengthAdjust="spacingAndGlyphs" font-family='"Liberation Serif", "Times New Roman", serif'>τ</text>
<text x="827.06" y="962.81" font-size="18.67" font-weight="bold" textLength="9.79" lengthAdjust="spacingAndGlyphs" font-family='"Liberation Serif", "Times New Roman", serif'>0</text>
<line x1="812.5" y1="954.4" x2="787.78" y2="967.04" stroke="#000" stroke-width="2.8" />
<path d="M773 974.6 L786.6 960.34 L792.52 971.92 Z" fill="#000"/>
<rect x="1022" y="576" width="260.3" height="91.4" fill="#fff" stroke="#222" stroke-width="1.6" />
<path d="M1157.8 595.1 L1215.3 595.1" fill="none" stroke="#000" stroke-width="2.2" stroke-linejoin="round"  />
<path d="M1157.8 621.5 L1215.3 621.5" fill="none" stroke="#000" stroke-width="2.2" stroke-linejoin="round" stroke-dasharray="22 5 8.5 5 8.5 5" />
<path d="M1157.8 648.9 L1215.3 648.9" fill="none" stroke="#000" stroke-width="2.2" stroke-linejoin="round" stroke-dasharray="9 5" />
<text x="1031.06" y="605.7" font-size="26.5" font-weight="bold" textLength="121.85" lengthAdjust="spacingAndGlyphs">Expected</text>
<text x="1050.13" y="632.8" font-size="26.5" font-weight="bold" textLength="103.2" lengthAdjust="spacingAndGlyphs">current:</text>
<text x="1231.25" y="603" font-size="26.5" font-weight="bold" textLength="42.88" lengthAdjust="spacingAndGlyphs">3 A</text>
<text x="1230.85" y="629.4" font-size="26.5" font-weight="bold" textLength="43.3" lengthAdjust="spacingAndGlyphs">6 A</text>
<text x="1230.9" y="656.8" font-size="26.5" font-weight="bold" textLength="43.24" lengthAdjust="spacingAndGlyphs">9 A</text>
<path d="M1434.95 975.16 L1437.26 948.66 L1439.56 925.62 L1443.02 904.88 L1445.32 894.52 L1451.08 877.24 L1460.3 849.59 L1467.21 831.15 L1476.43 810.41 L1482.19 800.05 L1484.49 804.65 L1487.95 821.94 L1493.71 849.59 L1498.32 868.02 L1504.08 871.47 L1517.9 879.54 L1543.25 883 L1589.33 885.3 L1658.46 885.3 L1805 884.61 L1965.85 884.15" fill="none" stroke="#000" stroke-width="4.2" stroke-linejoin="round"  />
<path d="M1482.19 800.05 L1482.66 799.17 L1483.27 798.06 L1483.98 796.76 L1484.78 795.3 L1485.65 793.71 L1486.56 792.03 L1487.5 790.29 L1488.44 788.53 L1489.36 786.77 L1490.25 785.07 L1491.12 783.36 L1491.99 781.59 L1492.86 779.76 L1493.75 777.89 L1494.65 776 L1495.56 774.09 L1496.5 772.19 L1497.46 770.3 L1498.45 768.45 L1499.47 766.64 L1500.53 764.84 L1501.63 763.03 L1502.76 761.22 L1503.91 759.42 L1505.09 757.64 L1506.27 755.88 L1507.46 754.16 L1508.65 752.5 L1509.83 750.89 L1510.99 749.35 L1512.15 747.89 L1513.33 746.49 L1514.52 745.14 L1515.71 743.84 L1516.9 742.59 L1518.07 741.36 L1519.22 740.17 L1520.35 739 L1521.45 737.84 L1522.51 736.68 L1523.52 735.57 L1524.47 734.52 L1525.37 733.51 L1526.25 732.53 L1527.12 731.57 L1527.99 730.6 L1528.87 729.61 L1529.77 728.57 L1530.72 727.48 L1531.73 726.31 L1532.79 725.05 L1533.88 723.7 L1535.01 722.27 L1536.17 720.81 L1537.34 719.33 L1538.53 717.85 L1539.72 716.41 L1540.91 715.01 L1542.09 713.7 L1543.25 712.49 L1544.4 711.38 L1545.55 710.35 L1546.71 709.38 L1547.86 708.47 L1549.01 707.59 L1550.16 706.74 L1551.31 705.89 L1552.47 705.04 L1553.62 704.17 L1554.77 703.27 L1555.9 702.37 L1557 701.48 L1558.08 700.62 L1559.16 699.75 L1560.24 698.88 L1561.35 697.99 L1562.5 697.07 L1563.69 696.12 L1564.95 695.12 L1566.29 694.06 L1567.78 692.85 L1569.44 691.47 L1571.23 689.96 L1573.07 688.41 L1574.93 686.85 L1576.74 685.37 L1578.45 684.02 L1580 682.87 L1581.35 681.97 L1582.42 681.38 L1583.21 681.08 L1583.76 680.98 L1584.13 681.06 L1584.34 681.32 L1584.44 681.74 L1584.47 682.32 L1584.47 683.05 L1584.48 683.91 L1584.56 684.89 L1584.72 685.99 L1584.95 687.24 L1585.18 688.68 L1585.41 690.29 L1585.65 692.04 L1585.88 693.91 L1586.11 695.89 L1586.34 697.95 L1586.57 700.07 L1586.8 702.24 L1587.03 704.42 L1587.25 706.66 L1587.47 708.98 L1587.68 711.37 L1587.89 713.84 L1588.11 716.38 L1588.33 718.97 L1588.56 721.61 L1588.8 724.29 L1589.05 727.02 L1589.33 729.77 L1589.62 732.66 L1589.91 735.76 L1590.21 739 L1590.52 742.3 L1590.84 745.61 L1591.18 748.85 L1591.55 751.95 L1591.93 754.84 L1592.34 757.45 L1592.79 759.72 L1593.23 761.63 L1593.66 763.24 L1594.09 764.61 L1594.54 765.77 L1595.02 766.78 L1595.55 767.69 L1596.15 768.54 L1596.84 769.38 L1597.64 770.27 L1598.55 771.24 L1599.56 772.27 L1600.65 773.27 L1601.81 774.25 L1603.06 775.21 L1604.38 776.14 L1605.79 777.05 L1607.29 777.94 L1608.89 778.8 L1610.58 779.64 L1612.37 780.46 L1614.2 781.26 L1616.02 782.06 L1617.88 782.83 L1619.82 783.59 L1621.88 784.32 L1624.1 785.02 L1626.52 785.68 L1629.18 786.29 L1632.14 786.86 L1635.41 787.37 L1638.74 787.83 L1641.92 788.22 L1645.11 788.57 L1648.47 788.88 L1652.18 789.14 L1656.38 789.38 L1661.26 789.59 L1666.96 789.78 L1673.65 789.96 L1681.5 790.14 L1691.37 790.29 L1703.57 790.42 L1717.45 790.52 L1732.32 790.59 L1747.51 790.65 L1762.37 790.69 L1776.22 790.73 L1788.38 790.76 L1798.2 790.79 L1805 790.83 L1807.76 790.86 L1806.61 790.89 L1802.59 790.91 L1796.77 790.92 L1790.2 790.93 L1783.92 790.93 L1778.99 790.94 L1776.46 790.94 L1777.39 790.94 L1782.83 790.94 L1793.65 790.95 L1809.23 790.95 L1828.42 790.95 L1850.05 790.95 L1872.95 790.95 L1895.97 790.95 L1917.93 790.95 L1937.68 790.95 L1954.04 790.94 L1965.85 790.94" fill="none" stroke="#000" stroke-width="4.2" stroke-linejoin="round" stroke-dasharray="40 11 16 11 16 11" />
<path d="M1566.29 694.06 L1567.29 693.26 L1568.63 692.2 L1570.23 690.93 L1572.02 689.51 L1573.92 688.01 L1575.86 686.48 L1577.75 684.99 L1579.53 683.6 L1581.11 682.38 L1582.42 681.38 L1583.43 680.63 L1584.21 680.06 L1584.81 679.62 L1585.29 679.29 L1585.73 679.01 L1586.18 678.73 L1586.7 678.41 L1587.36 678.01 L1588.22 677.48 L1589.33 676.77 L1590.67 675.91 L1592.13 674.95 L1593.72 673.9 L1595.43 672.77 L1597.25 671.59 L1599.18 670.36 L1601.19 669.1 L1603.3 667.82 L1605.5 666.53 L1607.76 665.25 L1610.13 663.96 L1612.59 662.64 L1615.16 661.28 L1617.83 659.89 L1620.58 658.49 L1623.41 657.07 L1626.32 655.65 L1629.29 654.23 L1632.33 652.82 L1635.41 651.43 L1638.59 650.05 L1641.88 648.66 L1645.28 647.28 L1648.74 645.9 L1652.26 644.52 L1655.82 643.13 L1659.39 641.75 L1662.95 640.37 L1666.49 638.99 L1669.98 637.6 L1673.43 636.2 L1676.89 634.76 L1680.35 633.31 L1683.8 631.85 L1687.26 630.4 L1690.71 628.98 L1694.17 627.59 L1697.63 626.25 L1701.08 624.97 L1704.54 623.78 L1708.07 622.65 L1711.71 621.57 L1715.42 620.54 L1719.14 619.56 L1722.83 618.62 L1726.44 617.73 L1729.92 616.88 L1733.22 616.07 L1736.3 615.3 L1739.1 614.56 L1741.67 613.83 L1744.06 613.08 L1746.29 612.34 L1748.35 611.64 L1750.26 610.99 L1752.01 610.43 L1753.61 609.97 L1755.06 609.64 L1756.37 609.48 L1757.53 609.49 L1758.49 609.64 L1759.2 609.85 L1759.71 610.15 L1760.05 610.57 L1760.27 611.13 L1760.41 611.86 L1760.51 612.77 L1760.61 613.89 L1760.76 615.25 L1760.99 616.87 L1761.27 618.84 L1761.53 621.21 L1761.77 623.89 L1762 626.8 L1762.21 629.86 L1762.43 632.98 L1762.64 636.09 L1762.85 639.1 L1763.07 641.94 L1763.29 644.52 L1763.5 646.91 L1763.66 649.25 L1763.8 651.54 L1763.94 653.75 L1764.09 655.89 L1764.26 657.95 L1764.48 659.93 L1764.77 661.81 L1765.14 663.58 L1765.6 665.25 L1766.16 666.79 L1766.79 668.18 L1767.49 669.46 L1768.24 670.64 L1769.06 671.73 L1769.91 672.77 L1770.81 673.78 L1771.74 674.76 L1772.69 675.76 L1773.66 676.77 L1774.64 677.8 L1775.61 678.82 L1776.6 679.82 L1777.62 680.79 L1778.69 681.74 L1779.81 682.66 L1781.01 683.55 L1782.29 684.41 L1783.68 685.22 L1785.18 685.99 L1786.92 686.73 L1788.93 687.46 L1791.13 688.16 L1793.44 688.82 L1795.78 689.45 L1798.07 690.03 L1800.22 690.56 L1802.14 691.03 L1803.76 691.43 L1805 691.75 L1805.68 691.96 L1805.8 692.05 L1805.51 692.04 L1804.97 691.96 L1804.35 691.85 L1803.8 691.72 L1803.48 691.62 L1803.54 691.56 L1804.16 691.57 L1805.47 691.7 L1807.41 691.93 L1809.76 692.24 L1812.49 692.61 L1815.56 693.02 L1818.94 693.46 L1822.61 693.91 L1826.53 694.36 L1830.66 694.78 L1834.97 695.15 L1839.43 695.47 L1844.12 695.75 L1849.09 696 L1854.33 696.24 L1859.81 696.45 L1865.5 696.65 L1871.36 696.83 L1877.37 696.99 L1883.51 697.13 L1889.74 697.25 L1896.04 697.36 L1902.8 697.43 L1910.27 697.48 L1918.21 697.5 L1926.36 697.49 L1934.48 697.48 L1942.32 697.45 L1949.62 697.42 L1956.14 697.39 L1961.64 697.37 L1965.85 697.36" fill="none" stroke="#000" stroke-width="4.2" stroke-linejoin="round" stroke-dasharray="16 10" />
<path d="M1409.61 975.16 L1434.95 975.16" fill="none" stroke="#000" stroke-width="2.2" stroke-linejoin="round"  />
<circle cx="1445.3" cy="894.5" r="8.2" fill="#ff0000"/>
<circle cx="1476" cy="811.6" r="8.2" fill="#ff0000"/>
<circle cx="1543.7" cy="712.5" r="8.2" fill="#ff0000"/>
<text x="1482.64" y="955.31" font-size="28.78" font-style="italic" textLength="10.76" lengthAdjust="spacingAndGlyphs" font-family='"Liberation Serif", "Times New Roman", serif'>τ</text>
<text x="1493.26" y="959.41" font-size="18.67" font-weight="bold" textLength="9.79" lengthAdjust="spacingAndGlyphs" font-family='"Liberation Serif", "Times New Roman", serif'>0</text>
<line x1="1477.6" y1="951.4" x2="1450.6" y2="966.43" stroke="#000" stroke-width="2.8" />
<path d="M1436.1 974.5 L1449.19 959.77 L1455.51 971.13 Z" fill="#000"/>
<rect x="1697.4" y="890.7" width="261.4" height="76.3" fill="#fff" stroke="#222" stroke-width="1.6" />
<path d="M1833.7 904.1 L1890.6 904.1" fill="none" stroke="#000" stroke-width="2.2" stroke-linejoin="round"  />
<path d="M1833.7 930.6 L1890.6 930.6" fill="none" stroke="#000" stroke-width="2.2" stroke-linejoin="round" stroke-dasharray="22 5 8.5 5 8.5 5" />
<path d="M1833.7 958 L1890.6 958" fill="none" stroke="#000" stroke-width="2.2" stroke-linejoin="round" stroke-dasharray="9 5" />
<text x="1706.56" y="914.8" font-size="26.5" font-weight="bold" textLength="121.85" lengthAdjust="spacingAndGlyphs">Expected</text>
<text x="1725.63" y="942.1" font-size="26.5" font-weight="bold" textLength="103.2" lengthAdjust="spacingAndGlyphs">current:</text>
<text x="1906.85" y="911.5" font-size="26.5" font-weight="bold" textLength="42.88" lengthAdjust="spacingAndGlyphs">3 A</text>
<text x="1906.45" y="938.3" font-size="26.5" font-weight="bold" textLength="43.3" lengthAdjust="spacingAndGlyphs">6 A</text>
<text x="1906.5" y="965.7" font-size="26.5" font-weight="bold" textLength="43.24" lengthAdjust="spacingAndGlyphs">9 A</text>
<path d="M70 1511.38 L78.98 1511.38 L80.27 1469.02 L82.19 1404.85 L83.8 1340.68 L85.08 1306.99 L86.04 1340.68 L86.04 1404.85 L85.4 1427.31 L87.65 1436.94 L90.86 1442.71 L98.88 1445.92 L118.13 1446.56 L150.21 1445.92 L190.32 1444.96 L191.28 1444.96 L191.92 1388.81 L192.89 1292.55 L194.49 1250.84 L196.74 1221.97 L198.98 1198.87 L199.62 1244.43 L199.95 1308.6 L200.27 1350.31 L202.19 1372.77 L206.36 1379.18 L214.38 1382.39 L246.47 1383.03 L304.22 1381.75 L305.83 1384 L306.79 1308.6 L307.43 1212.34 L309.03 1167.42 L312.24 1141.75 L317.06 1117.69 L317.7 1180.26 L318.34 1257.26 L320.26 1292.55 L323.47 1305.39 L328.29 1313.41 L339.52 1316.62 L358.77 1317.58 L390.85 1317.58 L422.94 1317.58 L424.54 1324.64 L426.79 1343.89 L430.96 1363.14 L435.77 1379.18 L438.34 1390.41 L439.62 1366.35 L440.58 1365.71 L443.79 1364.75 L455.02 1364.75 L487.11 1364.75 L544.22 1365.71 L544.86 1367.95 L545.82 1308.6 L547.43 1260.47 L549.35 1217.15 L550.32 1260.47 L551.28 1295.76 L552.88 1305.39 L556.09 1311.81 L564.11 1315.66 L583.36 1317.26 L627 1317.58" fill="none" stroke="#000" stroke-width="4.5" stroke-linejoin="round"  />
<text x="123.84" y="1491.21" font-size="28.78" font-style="italic" textLength="10.76" lengthAdjust="spacingAndGlyphs" font-family='"Liberation Serif", "Times New Roman", serif'>τ</text>
<text x="134.46" y="1495.31" font-size="18.67" font-weight="bold" textLength="9.79" lengthAdjust="spacingAndGlyphs" font-family='"Liberation Serif", "Times New Roman", serif'>0</text>
<line x1="121.3" y1="1488.9" x2="95.68" y2="1503.28" stroke="#000" stroke-width="2.8" />
<path d="M81.2 1511.4 L94.24 1496.63 L100.6 1507.97 Z" fill="#000"/>
<path d="M743 1509.09 L743.4 1509.13 L743.93 1509.24 L744.57 1509.37 L745.29 1509.52 L746.05 1509.65 L746.82 1509.74 L747.57 1509.75 L748.28 1509.67 L748.9 1509.46 L749.42 1509.09 L749.83 1508.66 L750.18 1508.24 L750.48 1507.78 L750.74 1507.25 L750.96 1506.61 L751.17 1505.8 L751.36 1504.78 L751.55 1503.53 L751.76 1501.98 L751.98 1500.11 L752.22 1497.83 L752.45 1495.17 L752.68 1492.18 L752.91 1488.94 L753.13 1485.51 L753.35 1481.97 L753.57 1478.38 L753.79 1474.81 L754.01 1471.34 L754.23 1468.02 L754.45 1464.79 L754.67 1461.5 L754.89 1458.19 L755.11 1454.88 L755.33 1451.58 L755.55 1448.31 L755.78 1445.09 L756.01 1441.94 L756.24 1438.89 L756.48 1435.94 L756.72 1433.03 L756.96 1430.1 L757.2 1427.18 L757.45 1424.31 L757.7 1421.54 L757.95 1418.89 L758.22 1416.4 L758.48 1414.11 L758.76 1412.05 L759.04 1410.27 L759.32 1408.79 L759.59 1407.6 L759.86 1406.66 L760.13 1405.92 L760.41 1405.34 L760.71 1404.86 L761.03 1404.46 L761.39 1404.08 L761.8 1403.68 L762.25 1403.21 L762.72 1402.73 L763.18 1402.31 L763.64 1401.94 L764.12 1401.62 L764.66 1401.33 L765.25 1401.05 L765.93 1400.8 L766.72 1400.54 L767.62 1400.28 L768.67 1400 L769.85 1399.71 L771.16 1399.43 L772.57 1399.15 L774.08 1398.88 L775.69 1398.62 L777.37 1398.36 L779.12 1398.11 L780.94 1397.88 L782.8 1397.65 L784.71 1397.44 L786.71 1397.24 L788.84 1397.08 L791.08 1396.93 L793.39 1396.8 L795.74 1396.67 L798.11 1396.54 L800.47 1396.4 L802.78 1396.24 L805.03 1396.05 L807.17 1395.83 L809.25 1395.56 L811.33 1395.26 L813.38 1394.92 L815.41 1394.56 L817.4 1394.19 L819.34 1393.82 L821.22 1393.47 L823.03 1393.15 L824.77 1392.86 L826.42 1392.62 L827.95 1392.43 L829.35 1392.27 L830.64 1392.14 L831.86 1392.03 L833.04 1391.94 L834.2 1391.87 L835.37 1391.81 L836.59 1391.75 L837.87 1391.71 L839.26 1391.66 L840.78 1391.61 L842.44 1391.57 L844.19 1391.53 L845.98 1391.5 L847.78 1391.48 L849.54 1391.47 L851.21 1391.49 L852.76 1391.52 L854.13 1391.58 L855.3 1391.66 L856.24 1391.81 L857.01 1392.04 L857.62 1392.34 L858.11 1392.66 L858.51 1392.98 L858.84 1393.28 L859.14 1393.51 L859.43 1393.66 L859.75 1393.7 L860.11 1393.58 L860.5 1393.37 L860.86 1393.09 L861.19 1392.74 L861.51 1392.32 L861.82 1391.82 L862.11 1391.23 L862.41 1390.54 L862.7 1389.74 L863.01 1388.84 L863.32 1387.81 L863.64 1386.69 L863.98 1385.51 L864.31 1384.26 L864.65 1382.9 L864.98 1381.43 L865.31 1379.83 L865.64 1378.08 L865.95 1376.17 L866.25 1374.07 L866.53 1371.77 L866.79 1369.21 L867.03 1366.38 L867.26 1363.32 L867.48 1360.09 L867.69 1356.73 L867.9 1353.29 L868.11 1349.81 L868.32 1346.36 L868.54 1342.96 L868.77 1339.68 L869.02 1336.39 L869.27 1332.98 L869.52 1329.5 L869.78 1326 L870.04 1322.54 L870.3 1319.16 L870.56 1315.93 L870.82 1312.88 L871.08 1310.09 L871.34 1307.6 L871.59 1305.4 L871.83 1303.45 L872.07 1301.72 L872.31 1300.17 L872.54 1298.77 L872.79 1297.51 L873.04 1296.34 L873.31 1295.25 L873.6 1294.2 L873.91 1293.16 L874.23 1292.17 L874.55 1291.3 L874.89 1290.52 L875.23 1289.83 L875.59 1289.21 L875.97 1288.65 L876.37 1288.13 L876.8 1287.65 L877.26 1287.19 L877.76 1286.74 L878.24 1286.33 L878.67 1285.98 L879.09 1285.68 L879.52 1285.42 L880 1285.2 L880.56 1284.99 L881.23 1284.8 L882.03 1284.61 L883 1284.4 L884.17 1284.17 L885.58 1283.94 L887.2 1283.71 L889.01 1283.49 L890.95 1283.27 L893 1283.05 L895.11 1282.83 L897.25 1282.62 L899.37 1282.39 L901.44 1282.16 L903.43 1281.93 L905.35 1281.68 L907.28 1281.43 L909.2 1281.17 L911.13 1280.91 L913.05 1280.64 L914.98 1280.38 L916.9 1280.12 L918.83 1279.86 L920.75 1279.61 L922.68 1279.36 L924.57 1279.12 L926.42 1278.87 L928.25 1278.62 L930.07 1278.38 L931.9 1278.14 L933.77 1277.91 L935.68 1277.68 L937.67 1277.48 L939.74 1277.29 L941.93 1277.12 L944.32 1276.97 L946.96 1276.84 L949.76 1276.72 L952.66 1276.62 L955.56 1276.53 L958.41 1276.45 L961.11 1276.38 L963.59 1276.3 L965.78 1276.23 L967.6 1276.15 L969.03 1276.09 L970.16 1276.05 L971.04 1276.02 L971.7 1276 L972.21 1275.97 L972.6 1275.94 L972.93 1275.88 L973.24 1275.8 L973.59 1275.68 L974.01 1275.51 L974.46 1275.34 L974.86 1275.19 L975.21 1275.04 L975.53 1274.87 L975.82 1274.67 L976.09 1274.4 L976.36 1274.05 L976.63 1273.6 L976.92 1273.03 L977.22 1272.3 L977.54 1271.5 L977.86 1270.66 L978.18 1269.77 L978.51 1268.79 L978.83 1267.69 L979.15 1266.45 L979.47 1265.04 L979.79 1263.42 L980.11 1261.58 L980.43 1259.47 L980.75 1257.04 L981.07 1254.28 L981.39 1251.26 L981.71 1248.02 L982.03 1244.63 L982.36 1241.14 L982.68 1237.62 L983 1234.11 L983.32 1230.68 L983.64 1227.38 L983.96 1224.13 L984.28 1220.81 L984.6 1217.45 L984.92 1214.09 L985.24 1210.74 L985.56 1207.44 L985.89 1204.22 L986.21 1201.1 L986.53 1198.12 L986.85 1195.3 L987.17 1192.59 L987.49 1189.92 L987.81 1187.33 L988.13 1184.82 L988.45 1182.42 L988.77 1180.16 L989.09 1178.05 L989.41 1176.11 L989.74 1174.37 L990.06 1172.84 L990.36 1171.57 L990.65 1170.56 L990.92 1169.77 L991.19 1169.16 L991.46 1168.69 L991.75 1168.32 L992.07 1168.01 L992.42 1167.73 L992.81 1167.42 L993.26 1167.06 L993.73 1166.7 L994.19 1166.39 L994.65 1166.13 L995.14 1165.91 L995.67 1165.72 L996.27 1165.55 L996.95 1165.38 L997.73 1165.21 L998.64 1165.03 L999.68 1164.82 L1000.9 1164.59 L1002.27 1164.37 L1003.79 1164.15 L1005.41 1163.93 L1007.1 1163.71 L1008.85 1163.49 L1010.61 1163.27 L1012.36 1163.04 L1014.08 1162.81 L1015.72 1162.57 L1017.33 1162.32 L1018.93 1162.06 L1020.54 1161.79 L1022.14 1161.52 L1023.75 1161.25 L1025.35 1160.98 L1026.95 1160.71 L1028.56 1160.46 L1030.16 1160.22 L1031.77 1160 L1033.34 1159.8 L1034.87 1159.61 L1036.38 1159.42 L1037.88 1159.25 L1039.39 1159.08 L1040.93 1158.93 L1042.53 1158.78 L1044.19 1158.64 L1045.95 1158.52 L1047.81 1158.4 L1049.84 1158.3 L1052.04 1158.23 L1054.38 1158.17 L1056.79 1158.12 L1059.24 1158.08 L1061.67 1158.04 L1064.04 1157.99 L1066.29 1157.93 L1068.38 1157.86 L1070.27 1157.76 L1071.95 1157.63 L1073.48 1157.49 L1074.88 1157.33 L1076.17 1157.16 L1077.39 1156.98 L1078.55 1156.8 L1079.67 1156.62 L1080.79 1156.45 L1081.93 1156.29 L1083.1 1156.15 L1084.33 1156.01 L1085.58 1155.85 L1086.84 1155.69 L1088.1 1155.52 L1089.32 1155.37 L1090.5 1155.25 L1091.6 1155.15 L1092.63 1155.11 L1093.54 1155.12 L1094.33 1155.19 L1094.98 1155.31 L1095.49 1155.44 L1095.89 1155.6 L1096.19 1155.79 L1096.44 1156.03 L1096.64 1156.34 L1096.83 1156.72 L1097.03 1157.18 L1097.26 1157.74 L1097.54 1158.4 L1097.86 1159.15 L1098.16 1159.95 L1098.45 1160.83 L1098.75 1161.78 L1099.05 1162.81 L1099.35 1163.94 L1099.67 1165.18 L1100.01 1166.54 L1100.36 1168.02 L1100.75 1169.63 L1101.17 1171.41 L1101.61 1173.35 L1102.08 1175.44 L1102.56 1177.65 L1103.06 1179.96 L1103.56 1182.34 L1104.07 1184.76 L1104.57 1187.21 L1105.07 1189.66 L1105.56 1192.09 L1106.05 1194.6 L1106.55 1197.27 L1107.06 1200.06 L1107.57 1202.9 L1108.07 1205.73 L1108.57 1208.49 L1109.05 1211.14 L1109.52 1213.6 L1109.96 1215.83 L1110.38 1217.76 L1110.75 1219.4 L1111.07 1220.82 L1111.36 1222.05 L1111.62 1223.1 L1111.88 1224.01 L1112.15 1224.81 L1112.44 1225.52 L1112.76 1226.17 L1113.14 1226.78 L1113.58 1227.38 L1114.06 1227.93 L1114.53 1228.38 L1115.02 1228.73 L1115.54 1229.01 L1116.09 1229.23 L1116.7 1229.4 L1117.39 1229.54 L1118.15 1229.67 L1119.02 1229.8 L1120 1229.95 L1121.11 1230.1 L1122.35 1230.22 L1123.69 1230.32 L1125.12 1230.41 L1126.62 1230.47 L1128.16 1230.52 L1129.74 1230.55 L1131.32 1230.58 L1132.89 1230.59 L1134.44 1230.59 L1135.98 1230.57 L1137.55 1230.5 L1139.13 1230.4 L1140.74 1230.29 L1142.36 1230.17 L1143.99 1230.06 L1145.62 1229.97 L1147.25 1229.91 L1148.87 1229.9 L1150.48 1229.95 L1152.07 1230.07 L1153.64 1230.24 L1155.19 1230.46 L1156.75 1230.72 L1158.3 1230.99 L1159.88 1231.27 L1161.48 1231.55 L1163.11 1231.8 L1164.79 1232.02 L1166.52 1232.2 L1168.32 1232.33 L1170.17 1232.45 L1172.06 1232.55 L1173.99 1232.63 L1175.95 1232.7 L1177.92 1232.75 L1179.9 1232.79 L1181.87 1232.82 L1183.84 1232.83 L1185.78 1232.84 L1187.75 1232.82 L1189.79 1232.78 L1191.87 1232.71 L1193.97 1232.63 L1196.04 1232.54 L1198.07 1232.45 L1200.01 1232.36 L1201.83 1232.28 L1203.52 1232.23 L1205.03 1232.2 L1206.37 1232.21 L1207.59 1232.26 L1208.69 1232.34 L1209.68 1232.44 L1210.58 1232.54 L1211.4 1232.62 L1212.13 1232.67 L1212.81 1232.68 L1213.43 1232.64 L1214.01 1232.52 L1214.5 1232.38 L1214.88 1232.28 L1215.15 1232.19 L1215.35 1232.06 L1215.49 1231.88 L1215.61 1231.6 L1215.72 1231.21 L1215.85 1230.66 L1216.02 1229.93 L1216.26 1228.99 L1216.54 1227.86 L1216.84 1226.59 L1217.15 1225.19 L1217.47 1223.64 L1217.8 1221.95 L1218.14 1220.12 L1218.47 1218.14 L1218.81 1216.02 L1219.14 1213.75 L1219.47 1211.34 L1219.79 1208.64 L1220.11 1205.57 L1220.43 1202.22 L1220.75 1198.7 L1221.07 1195.1 L1221.39 1191.51 L1221.71 1188.04 L1222.03 1184.77 L1222.35 1181.81 L1222.67 1179.26 L1222.99 1177.05 L1223.29 1175.06 L1223.59 1173.27 L1223.88 1171.67 L1224.18 1170.23 L1224.48 1168.94 L1224.8 1167.77 L1225.14 1166.7 L1225.5 1165.73 L1225.88 1164.82 L1226.23 1164.04 L1226.51 1163.44 L1226.75 1163 L1227 1162.68 L1227.29 1162.45 L1227.65 1162.28 L1228.14 1162.15 L1228.78 1162.01 L1229.62 1161.84 L1230.7 1161.61 L1232.02 1161.34 L1233.57 1161.09 L1235.31 1160.84 L1237.2 1160.61 L1239.22 1160.39 L1241.32 1160.17 L1243.48 1159.96 L1245.66 1159.76 L1247.83 1159.56 L1249.95 1159.36 L1252.04 1159.18 L1254.15 1159.02 L1256.29 1158.86 L1258.45 1158.72 L1260.65 1158.58 L1262.9 1158.44 L1265.19 1158.29 L1267.53 1158.13 L1269.94 1157.96 L1272.41 1157.76 L1275.08 1157.53 L1278.04 1157.27 L1281.18 1156.98 L1284.4 1156.68 L1287.61 1156.37 L1290.7 1156.08 L1293.59 1155.8 L1296.16 1155.56 L1298.33 1155.35 L1300 1155.19" fill="none" stroke="#000" stroke-width="4.5" stroke-linejoin="round"  />
<text x="793.64" y="1491.81" font-size="28.78" font-style="italic" textLength="10.76" lengthAdjust="spacingAndGlyphs" font-family='"Liberation Serif", "Times New Roman", serif'>τ</text>
<text x="804.26" y="1495.91" font-size="18.67" font-weight="bold" textLength="9.79" lengthAdjust="spacingAndGlyphs" font-family='"Liberation Serif", "Times New Roman", serif'>0</text>
<line x1="792.7" y1="1487.9" x2="767.28" y2="1501.34" stroke="#000" stroke-width="2.8" />
<path d="M752.6 1509.1 L766.01 1494.66 L772.08 1506.15 Z" fill="#000"/>
<path d="M1416.65 1510.2 L1422.2 1225.67 L1427.75 1225.67 L1433.3 1111.85 L1438.86 1111.85 L1444.41 1111.85 L1449.96 1111.85 L1455.51 1168.76 L1461.06 1168.76 L1466.61 1168.76 L1472.16 1168.76 L1477.71 1168.76 L1483.26 1111.85 L1488.81 1111.85 L1494.37 1111.85 L1499.92 1111.85 L1505.47 1168.76 L1511.02 1168.76 L1516.57 1111.85 L1522.12 1168.76 L1527.67 1168.76 L1533.22 1168.76 L1538.77 1111.85 L1544.32 1168.76 L1549.88 1111.85 L1555.43 1111.85 L1560.98 1111.85 L1566.53 1111.85 L1572.08 1168.76 L1577.63 1111.85 L1583.18 1111.85 L1588.73 1168.76 L1594.28 1168.76 L1599.83 1111.85 L1605.38 1111.85 L1610.94 1111.85 L1616.49 1111.85 L1622.04 1168.76 L1627.59 1111.85 L1633.14 1168.76 L1638.69 1111.85 L1644.24 1225.67 L1649.79 1168.76 L1655.34 1111.85 L1660.89 1111.85 L1666.45 1111.85 L1672 1111.85 L1677.55 1111.85 L1683.1 1168.76 L1688.65 1168.76 L1694.2 1111.85 L1699.75 1168.76 L1705.3 1111.85 L1710.85 1168.76 L1716.4 1111.85 L1721.96 1111.85 L1727.51 1111.85 L1733.06 1168.76 L1738.61 1168.76 L1744.16 1168.76 L1749.71 1168.76 L1755.26 1111.85 L1760.81 1111.85 L1766.36 1111.85 L1771.91 1111.85 L1777.47 1111.85 L1783.02 1111.85 L1788.57 1168.76 L1794.12 1168.76 L1799.67 1168.76 L1805.22 1168.76 L1810.77 1168.76 L1816.32 1168.76 L1821.87 1168.76 L1827.42 1111.85 L1832.98 1111.85 L1838.53 1111.85 L1844.08 1168.76 L1849.63 1168.76 L1855.18 1168.76 L1860.73 1168.76 L1866.28 1168.76 L1871.83 1168.76 L1877.38 1168.76 L1882.93 1111.85 L1888.49 1111.85 L1894.04 1168.76 L1899.59 1168.76 L1905.14 1168.76 L1910.69 1168.76 L1916.24 1168.76 L1921.79 1168.76 L1927.34 1168.76 L1932.89 1168.76 L1938.45 1168.76 L1944 1111.85 L1949.55 1111.85 L1955.1 1111.85 L1960.65 1168.76 L1966.2 1168.76" fill="none" stroke="#000" stroke-width="4.6" stroke-linejoin="round"  stroke-linejoin="miter" stroke-miterlimit="10"/>
<rect x="68.75" y="1618.25" width="1898.45" height="682.5" fill="none" stroke="#333" stroke-width="1.5" />
<line x1="68.75" y1="2300.75" x2="82.75" y2="2300.75" stroke="#333" stroke-width="1.5" />
<text x="49.06" y="2310.45" font-size="28.7" textLength="12.25" lengthAdjust="spacingAndGlyphs" stroke="#000" stroke-width="0.35">0</text>
<line x1="68.75" y1="2210.64" x2="82.75" y2="2210.64" stroke="#333" stroke-width="1.5" />
<text x="36.81" y="2220.34" font-size="28.7" textLength="24.5" lengthAdjust="spacingAndGlyphs" stroke="#000" stroke-width="0.35">10</text>
<line x1="68.75" y1="2120.54" x2="82.75" y2="2120.54" stroke="#333" stroke-width="1.5" />
<text x="36.81" y="2130.24" font-size="28.7" textLength="24.5" lengthAdjust="spacingAndGlyphs" stroke="#000" stroke-width="0.35">20</text>
<line x1="68.75" y1="2030.43" x2="82.75" y2="2030.43" stroke="#333" stroke-width="1.5" />
<text x="36.81" y="2040.13" font-size="28.7" textLength="24.5" lengthAdjust="spacingAndGlyphs" stroke="#000" stroke-width="0.35">30</text>
<line x1="68.75" y1="1940.32" x2="82.75" y2="1940.32" stroke="#333" stroke-width="1.5" />
<text x="36.81" y="1950.02" font-size="28.7" textLength="24.5" lengthAdjust="spacingAndGlyphs" stroke="#000" stroke-width="0.35">40</text>
<line x1="68.75" y1="1850.22" x2="82.75" y2="1850.22" stroke="#333" stroke-width="1.5" />
<text x="36.81" y="1859.92" font-size="28.7" textLength="24.5" lengthAdjust="spacingAndGlyphs" stroke="#000" stroke-width="0.35">50</text>
<line x1="68.75" y1="1760.11" x2="82.75" y2="1760.11" stroke="#333" stroke-width="1.5" />
<text x="36.81" y="1769.81" font-size="28.7" textLength="24.5" lengthAdjust="spacingAndGlyphs" stroke="#000" stroke-width="0.35">60</text>
<line x1="68.75" y1="1670" x2="86.75" y2="1670" stroke="#555" stroke-width="1.5" />
<text x="36.81" y="1685.7" font-size="28.7" textLength="24.5" lengthAdjust="spacingAndGlyphs" stroke="#000" stroke-width="0.35">70</text>
<line x1="68.75" y1="2255.7" x2="77.75" y2="2255.7" stroke="#333" stroke-width="1.5" />
<line x1="68.75" y1="2165.59" x2="77.75" y2="2165.59" stroke="#333" stroke-width="1.5" />
<line x1="68.75" y1="2075.48" x2="77.75" y2="2075.48" stroke="#333" stroke-width="1.5" />
<line x1="68.75" y1="1985.38" x2="77.75" y2="1985.38" stroke="#333" stroke-width="1.5" />
<line x1="68.75" y1="1895.27" x2="77.75" y2="1895.27" stroke="#333" stroke-width="1.5" />
<line x1="68.75" y1="1805.16" x2="77.75" y2="1805.16" stroke="#333" stroke-width="1.5" />
<line x1="68.75" y1="1715.05" x2="77.75" y2="1715.05" stroke="#333" stroke-width="1.5" />
<text x="25.5" y="2134.94" font-size="32.3" font-weight="bold" textLength="303.44" lengthAdjust="spacingAndGlyphs" transform="rotate(-90 25.5 2134.94)">Response time [ms]</text>
<text x="95.16" y="1663" font-size="38.7" font-weight="bold" textLength="36.67" lengthAdjust="spacingAndGlyphs">(f)</text>
<rect x="89.4" y="2192.67" width="27.05" height="108.08" fill="url(#psim)" stroke="#a6a6a6" stroke-width="2.8" shape-rendering="crispEdges"/>
<rect x="146.11" y="2192.67" width="27.05" height="108.08" fill="url(#psim)" stroke="#a6a6a6" stroke-width="2.8" shape-rendering="crispEdges"/>
<rect x="202.82" y="2192.67" width="27.05" height="108.08" fill="url(#psim)" stroke="#a6a6a6" stroke-width="2.8" shape-rendering="crispEdges"/>
<rect x="259.52" y="2001.64" width="27.05" height="299.11" fill="url(#psim)" stroke="#a6a6a6" stroke-width="2.8" shape-rendering="crispEdges"/>
<rect x="316.23" y="2001.64" width="27.05" height="299.11" fill="url(#psim)" stroke="#a6a6a6" stroke-width="2.8" shape-rendering="crispEdges"/>
<rect x="372.94" y="2001.64" width="27.05" height="299.11" fill="url(#psim)" stroke="#a6a6a6" stroke-width="2.8" shape-rendering="crispEdges"/>
<rect x="117.25" y="2224.39" width="27.55" height="76.36" fill="url(#pexp)" stroke="#000" stroke-width="2.8" shape-rendering="crispEdges"/>
<rect x="173.96" y="2224.39" width="27.55" height="76.36" fill="url(#pexp)" stroke="#000" stroke-width="2.8" shape-rendering="crispEdges"/>
<rect x="230.67" y="2224.39" width="27.55" height="76.36" fill="url(#pexp)" stroke="#000" stroke-width="2.8" shape-rendering="crispEdges"/>
<rect x="287.38" y="2067.87" width="27.55" height="232.88" fill="url(#pexp)" stroke="#000" stroke-width="2.8" shape-rendering="crispEdges"/>
<rect x="344.09" y="2067.87" width="27.55" height="232.88" fill="url(#pexp)" stroke="#000" stroke-width="2.8" shape-rendering="crispEdges"/>
<rect x="400.8" y="2067.87" width="27.55" height="232.88" fill="url(#pexp)" stroke="#000" stroke-width="2.8" shape-rendering="crispEdges"/>
<text x="98.95" y="2326.25" font-size="25.4" font-weight="bold" textLength="34.88" lengthAdjust="spacingAndGlyphs">3 A</text>
<text x="155.33" y="2326.25" font-size="25.4" font-weight="bold" textLength="35.21" lengthAdjust="spacingAndGlyphs">6 A</text>
<text x="212.09" y="2326.25" font-size="25.4" font-weight="bold" textLength="35.16" lengthAdjust="spacingAndGlyphs">9 A</text>
<text x="269.08" y="2326.25" font-size="25.4" font-weight="bold" textLength="34.88" lengthAdjust="spacingAndGlyphs">3 A</text>
<text x="325.45" y="2326.25" font-size="25.4" font-weight="bold" textLength="35.21" lengthAdjust="spacingAndGlyphs">6 A</text>
<text x="382.21" y="2326.25" font-size="25.4" font-weight="bold" textLength="35.16" lengthAdjust="spacingAndGlyphs">9 A</text>
<rect x="471.4" y="2132.3" width="26.82" height="168.45" fill="url(#psim)" stroke="#a6a6a6" stroke-width="2.8" shape-rendering="crispEdges"/>
<rect x="527.65" y="2132.3" width="26.82" height="168.45" fill="url(#psim)" stroke="#a6a6a6" stroke-width="2.8" shape-rendering="crispEdges"/>
<rect x="583.9" y="2132.3" width="26.82" height="168.45" fill="url(#psim)" stroke="#a6a6a6" stroke-width="2.8" shape-rendering="crispEdges"/>
<rect x="640.15" y="1778.81" width="26.82" height="521.94" fill="url(#psim)" stroke="#a6a6a6" stroke-width="2.8" shape-rendering="crispEdges"/>
<rect x="696.4" y="1778.81" width="26.82" height="521.94" fill="url(#psim)" stroke="#a6a6a6" stroke-width="2.8" shape-rendering="crispEdges"/>
<rect x="752.65" y="1778.81" width="26.82" height="521.94" fill="url(#psim)" stroke="#a6a6a6" stroke-width="2.8" shape-rendering="crispEdges"/>
<rect x="499.02" y="2153.92" width="27.32" height="146.83" fill="url(#pexp)" stroke="#000" stroke-width="2.8" shape-rendering="crispEdges"/>
<rect x="555.27" y="2153.92" width="27.32" height="146.83" fill="url(#pexp)" stroke="#000" stroke-width="2.8" shape-rendering="crispEdges"/>
<rect x="611.52" y="2153.92" width="27.32" height="146.83" fill="url(#pexp)" stroke="#000" stroke-width="2.8" shape-rendering="crispEdges"/>
<rect x="667.77" y="1698.43" width="27.32" height="602.32" fill="url(#pexp)" stroke="#000" stroke-width="2.8" shape-rendering="crispEdges"/>
<rect x="724.02" y="1698.43" width="27.32" height="602.32" fill="url(#pexp)" stroke="#000" stroke-width="2.8" shape-rendering="crispEdges"/>
<rect x="780.27" y="1698.43" width="27.32" height="602.32" fill="url(#pexp)" stroke="#000" stroke-width="2.8" shape-rendering="crispEdges"/>
<text x="480.72" y="2326.25" font-size="25.4" font-weight="bold" textLength="34.88" lengthAdjust="spacingAndGlyphs">3 A</text>
<text x="536.64" y="2326.25" font-size="25.4" font-weight="bold" textLength="35.21" lengthAdjust="spacingAndGlyphs">6 A</text>
<text x="592.94" y="2326.25" font-size="25.4" font-weight="bold" textLength="35.16" lengthAdjust="spacingAndGlyphs">9 A</text>
<text x="649.47" y="2326.25" font-size="25.4" font-weight="bold" textLength="34.88" lengthAdjust="spacingAndGlyphs">3 A</text>
<text x="705.39" y="2326.25" font-size="25.4" font-weight="bold" textLength="35.21" lengthAdjust="spacingAndGlyphs">6 A</text>
<text x="761.69" y="2326.25" font-size="25.4" font-weight="bold" textLength="35.16" lengthAdjust="spacingAndGlyphs">9 A</text>
<rect x="850.15" y="2294.94" width="26.82" height="5.81" fill="url(#psim)" stroke="#a6a6a6" stroke-width="2.8" shape-rendering="crispEdges"/>
<rect x="906.4" y="2287.73" width="26.82" height="13.02" fill="url(#psim)" stroke="#a6a6a6" stroke-width="2.8" shape-rendering="crispEdges"/>
<rect x="962.65" y="2278.72" width="26.82" height="22.03" fill="url(#psim)" stroke="#a6a6a6" stroke-width="2.8" shape-rendering="crispEdges"/>
<rect x="1018.9" y="2289.99" width="26.82" height="10.76" fill="url(#psim)" stroke="#a6a6a6" stroke-width="2.8" shape-rendering="crispEdges"/>
<rect x="1075.15" y="2278.72" width="26.82" height="22.03" fill="url(#psim)" stroke="#a6a6a6" stroke-width="2.8" shape-rendering="crispEdges"/>
<rect x="1131.4" y="2260.7" width="26.82" height="40.05" fill="url(#psim)" stroke="#a6a6a6" stroke-width="2.8" shape-rendering="crispEdges"/>
<rect x="877.77" y="2299.9" width="27.32" height="0.85" fill="url(#pexp)" stroke="#000" stroke-width="2.8" shape-rendering="crispEdges"/>
<rect x="934.02" y="2297.64" width="27.32" height="3.11" fill="url(#pexp)" stroke="#000" stroke-width="2.8" shape-rendering="crispEdges"/>
<rect x="990.27" y="2294.94" width="27.32" height="5.81" fill="url(#pexp)" stroke="#000" stroke-width="2.8" shape-rendering="crispEdges"/>
<rect x="1046.53" y="2299" width="27.32" height="1.75" fill="url(#pexp)" stroke="#000" stroke-width="2.8" shape-rendering="crispEdges"/>
<rect x="1102.78" y="2294.94" width="27.32" height="5.81" fill="url(#pexp)" stroke="#000" stroke-width="2.8" shape-rendering="crispEdges"/>
<rect x="1159.03" y="2285.93" width="27.32" height="14.82" fill="url(#pexp)" stroke="#000" stroke-width="2.8" shape-rendering="crispEdges"/>
<text x="859.47" y="2326.25" font-size="25.4" font-weight="bold" textLength="34.88" lengthAdjust="spacingAndGlyphs">3 A</text>
<text x="915.39" y="2326.25" font-size="25.4" font-weight="bold" textLength="35.21" lengthAdjust="spacingAndGlyphs">6 A</text>
<text x="971.69" y="2326.25" font-size="25.4" font-weight="bold" textLength="35.16" lengthAdjust="spacingAndGlyphs">9 A</text>
<text x="1028.22" y="2326.25" font-size="25.4" font-weight="bold" textLength="34.88" lengthAdjust="spacingAndGlyphs">3 A</text>
<text x="1084.14" y="2326.25" font-size="25.4" font-weight="bold" textLength="35.21" lengthAdjust="spacingAndGlyphs">6 A</text>
<text x="1140.44" y="2326.25" font-size="25.4" font-weight="bold" textLength="35.16" lengthAdjust="spacingAndGlyphs">9 A</text>
<rect x="1222.65" y="2296.74" width="27.07" height="4.01" fill="url(#pgrid)" stroke="#999" stroke-width="2.8" shape-rendering="crispEdges"/>
<rect x="1279.4" y="2290.71" width="27.07" height="10.04" fill="url(#pgrid)" stroke="#999" stroke-width="2.8" shape-rendering="crispEdges"/>
<rect x="1336.15" y="2281.43" width="27.07" height="19.32" fill="url(#pgrid)" stroke="#999" stroke-width="2.8" shape-rendering="crispEdges"/>
<rect x="1392.9" y="2294.94" width="27.07" height="5.81" fill="url(#pgrid)" stroke="#999" stroke-width="2.8" shape-rendering="crispEdges"/>
<rect x="1449.65" y="2281.88" width="27.07" height="18.87" fill="url(#pgrid)" stroke="#999" stroke-width="2.8" shape-rendering="crispEdges"/>
<rect x="1506.4" y="2261.6" width="27.07" height="39.15" fill="url(#pgrid)" stroke="#999" stroke-width="2.8" shape-rendering="crispEdges"/>
<rect x="1250.53" y="2296.29" width="27.57" height="4.46" fill="url(#pchk)" stroke="#000" stroke-width="2.8" shape-rendering="crispEdges"/>
<rect x="1307.28" y="2280.52" width="27.57" height="20.23" fill="url(#pchk)" stroke="#000" stroke-width="2.8" shape-rendering="crispEdges"/>
<rect x="1364.03" y="2259.35" width="27.57" height="41.4" fill="url(#pchk)" stroke="#000" stroke-width="2.8" shape-rendering="crispEdges"/>
<rect x="1420.78" y="2290.71" width="27.57" height="10.04" fill="url(#pchk)" stroke="#000" stroke-width="2.8" shape-rendering="crispEdges"/>
<rect x="1477.53" y="2260.7" width="27.57" height="40.05" fill="url(#pchk)" stroke="#000" stroke-width="2.8" shape-rendering="crispEdges"/>
<rect x="1534.28" y="2199.88" width="27.57" height="100.87" fill="url(#pchk)" stroke="#000" stroke-width="2.8" shape-rendering="crispEdges"/>
<text x="1232.22" y="2326.25" font-size="25.4" font-weight="bold" textLength="34.88" lengthAdjust="spacingAndGlyphs">3 A</text>
<text x="1288.64" y="2326.25" font-size="25.4" font-weight="bold" textLength="35.21" lengthAdjust="spacingAndGlyphs">6 A</text>
<text x="1345.44" y="2326.25" font-size="25.4" font-weight="bold" textLength="35.16" lengthAdjust="spacingAndGlyphs">9 A</text>
<text x="1402.47" y="2326.25" font-size="25.4" font-weight="bold" textLength="34.88" lengthAdjust="spacingAndGlyphs">3 A</text>
<text x="1458.89" y="2326.25" font-size="25.4" font-weight="bold" textLength="35.21" lengthAdjust="spacingAndGlyphs">6 A</text>
<text x="1515.69" y="2326.25" font-size="25.4" font-weight="bold" textLength="35.16" lengthAdjust="spacingAndGlyphs">9 A</text>
<rect x="1602.4" y="2288.18" width="27.07" height="12.57" fill="url(#psim)" stroke="#a6a6a6" stroke-width="2.8" shape-rendering="crispEdges"/>
<rect x="1659.15" y="2275.39" width="27.07" height="25.36" fill="url(#psim)" stroke="#a6a6a6" stroke-width="2.8" shape-rendering="crispEdges"/>
<rect x="1715.9" y="2252.59" width="27.07" height="48.16" fill="url(#psim)" stroke="#a6a6a6" stroke-width="2.8" shape-rendering="crispEdges"/>
<rect x="1772.65" y="2280.52" width="27.07" height="20.23" fill="url(#psim)" stroke="#a6a6a6" stroke-width="2.8" shape-rendering="crispEdges"/>
<rect x="1829.4" y="2256.65" width="27.07" height="44.1" fill="url(#psim)" stroke="#a6a6a6" stroke-width="2.8" shape-rendering="crispEdges"/>
<rect x="1886.15" y="2230.06" width="27.07" height="70.69" fill="url(#psim)" stroke="#a6a6a6" stroke-width="2.8" shape-rendering="crispEdges"/>
<rect x="1630.28" y="2289.9" width="27.57" height="10.85" fill="url(#pexp)" stroke="#000" stroke-width="2.8" shape-rendering="crispEdges"/>
<rect x="1687.03" y="2278.72" width="27.57" height="22.03" fill="url(#pexp)" stroke="#000" stroke-width="2.8" shape-rendering="crispEdges"/>
<rect x="1743.78" y="2265.66" width="27.57" height="35.09" fill="url(#pexp)" stroke="#000" stroke-width="2.8" shape-rendering="crispEdges"/>
<rect x="1800.53" y="2282.33" width="27.57" height="18.42" fill="url(#pexp)" stroke="#000" stroke-width="2.8" shape-rendering="crispEdges"/>
<rect x="1857.28" y="2263.67" width="27.57" height="37.08" fill="url(#pexp)" stroke="#000" stroke-width="2.8" shape-rendering="crispEdges"/>
<rect x="1914.03" y="2235.47" width="27.57" height="65.28" fill="url(#pexp)" stroke="#000" stroke-width="2.8" shape-rendering="crispEdges"/>
<text x="1606.99" y="2326.25" font-size="25.4" font-weight="bold" textLength="44.12" lengthAdjust="spacingAndGlyphs">0.1T</text>
<text x="1663.74" y="2326.25" font-size="25.4" font-weight="bold" textLength="44.12" lengthAdjust="spacingAndGlyphs">0.2T</text>
<text x="1715.4" y="2326.25" font-size="25.4" font-weight="bold" textLength="54.34" lengthAdjust="spacingAndGlyphs">0.28T</text>
<text x="1777.24" y="2326.25" font-size="25.4" font-weight="bold" textLength="44.12" lengthAdjust="spacingAndGlyphs">0.1T</text>
<text x="1833.99" y="2326.25" font-size="25.4" font-weight="bold" textLength="44.12" lengthAdjust="spacingAndGlyphs">0.2T</text>
<text x="1885.65" y="2326.25" font-size="25.4" font-weight="bold" textLength="54.34" lengthAdjust="spacingAndGlyphs">0.28T</text>
<line x1="68.75" y1="2300.75" x2="1967.2" y2="2300.75" stroke="#222" stroke-width="1.6" />
<text x="147.27" y="2359" font-size="27.3" font-weight="bold" textLength="224.39" lengthAdjust="spacingAndGlyphs">SD current source</text>
<text x="182.47" y="2390.5" font-size="27.3" font-weight="bold" textLength="153.85" lengthAdjust="spacingAndGlyphs">(in 3.1 &amp; 4.1)</text>
<text x="514.71" y="2359" font-size="27.3" font-weight="bold" textLength="245.12" lengthAdjust="spacingAndGlyphs">BCD current source</text>
<text x="560.51" y="2390.5" font-size="27.3" font-weight="bold" textLength="154.36" lengthAdjust="spacingAndGlyphs">(in 3.2 &amp; 4.1)</text>
<text x="887.35" y="2359" font-size="27.3" font-weight="bold" textLength="260.65" lengthAdjust="spacingAndGlyphs">SSBC current source</text>
<text x="941.05" y="2390.5" font-size="27.3" font-weight="bold" textLength="153.09" lengthAdjust="spacingAndGlyphs">(in 3.3 &amp; 4.2)</text>
<text x="1225.32" y="2359" font-size="27.3" font-weight="bold" textLength="350.78" lengthAdjust="spacingAndGlyphs">*Comparison between SSBC</text>
<text x="1239.89" y="2390.5" font-size="27.3" font-weight="bold" textLength="320.96" lengthAdjust="spacingAndGlyphs">&amp; SBCBC current sources</text>
<text x="1358.47" y="2420.5" font-size="27.3" font-weight="bold" textLength="83.84" lengthAdjust="spacingAndGlyphs">(in 4.3)</text>
<text x="1658.18" y="2359" font-size="27.3" font-weight="bold" textLength="237.1" lengthAdjust="spacingAndGlyphs">Magnetic induction</text>
<text x="1637.63" y="2390.5" font-size="27.3" font-weight="bold" textLength="278.34" lengthAdjust="spacingAndGlyphs">(SSBC current source)</text>
<text x="1700.25" y="2420.5" font-size="27.3" font-weight="bold" textLength="153.09" lengthAdjust="spacingAndGlyphs">(in 3.4 &amp; 4.2)</text>
<path d="M89.3 1997 L101.8 1986 L169.4 1986 L173.3 1975.6 L177.2 1986 L244.8 1986 L257.3 1997" fill="none" stroke="#000" stroke-width="2.6" stroke-linejoin="round"  stroke-linejoin="miter"/>
<text x="165.17" y="1964.11" font-size="48.61" font-weight="bold" font-style="italic" textLength="17.54" lengthAdjust="spacingAndGlyphs" font-family='"Liberation Serif", "Times New Roman", serif'>τ</text>
<text x="179.85" y="1970.8" font-size="28.66" font-weight="bold" font-style="italic" textLength="13.91" lengthAdjust="spacingAndGlyphs" font-family='"Liberation Serif", "Times New Roman", serif'>r</text>
<text x="181.29" y="1969.03" font-size="57.45" font-weight="bold" font-style="italic" textLength="15.48" lengthAdjust="spacingAndGlyphs" font-family='"Liberation Serif", "Times New Roman", serif'>′</text>
<path d="M262.5 1997 L275 1986 L342.2 1986 L346.1 1975.6 L350 1986 L418 1986 L430.5 1997" fill="none" stroke="#000" stroke-width="2.6" stroke-linejoin="round"  stroke-linejoin="miter"/>
<text x="336.43" y="1964.11" font-size="48.61" font-weight="bold" font-style="italic" textLength="16.35" lengthAdjust="spacingAndGlyphs" font-family='"Liberation Serif", "Times New Roman", serif'>τ</text>
<text x="350.94" y="1970.8" font-size="28.66" font-weight="bold" font-style="italic" textLength="14.01" lengthAdjust="spacingAndGlyphs" font-family='"Liberation Serif", "Times New Roman", serif'>r</text>
<path d="M467.7 1692.8 L480.2 1681.8 L547.9 1681.8 L551.8 1671.4 L555.7 1681.8 L622.9 1681.8 L635.4 1692.8" fill="none" stroke="#000" stroke-width="2.6" stroke-linejoin="round"  stroke-linejoin="miter"/>
<text x="543.67" y="1659.91" font-size="48.61" font-weight="bold" font-style="italic" textLength="17.54" lengthAdjust="spacingAndGlyphs" font-family='"Liberation Serif", "Times New Roman", serif'>τ</text>
<text x="558.35" y="1666.6" font-size="28.66" font-weight="bold" font-style="italic" textLength="13.91" lengthAdjust="spacingAndGlyphs" font-family='"Liberation Serif", "Times New Roman", serif'>r</text>
<text x="559.79" y="1664.83" font-size="57.45" font-weight="bold" font-style="italic" textLength="15.48" lengthAdjust="spacingAndGlyphs" font-family='"Liberation Serif", "Times New Roman", serif'>′</text>
<path d="M640.6 1692.8 L653.1 1681.8 L720.8 1681.8 L724.7 1671.4 L728.6 1681.8 L795.1 1681.8 L807.6 1692.8" fill="none" stroke="#000" stroke-width="2.6" stroke-linejoin="round"  stroke-linejoin="miter"/>
<text x="715.03" y="1659.91" font-size="48.61" font-weight="bold" font-style="italic" textLength="16.35" lengthAdjust="spacingAndGlyphs" font-family='"Liberation Serif", "Times New Roman", serif'>τ</text>
<text x="729.54" y="1666.6" font-size="28.66" font-weight="bold" font-style="italic" textLength="14.01" lengthAdjust="spacingAndGlyphs" font-family='"Liberation Serif", "Times New Roman", serif'>r</text>
<path d="M845.5 2261 L858 2250 L926.1 2250 L930 2239.6 L933.9 2250 L1001.5 2250 L1014 2261" fill="none" stroke="#000" stroke-width="2.6" stroke-linejoin="round"  stroke-linejoin="miter"/>
<text x="921.87" y="2228.11" font-size="48.61" font-weight="bold" font-style="italic" textLength="17.54" lengthAdjust="spacingAndGlyphs" font-family='"Liberation Serif", "Times New Roman", serif'>τ</text>
<text x="936.55" y="2234.8" font-size="28.66" font-weight="bold" font-style="italic" textLength="13.91" lengthAdjust="spacingAndGlyphs" font-family='"Liberation Serif", "Times New Roman", serif'>r</text>
<text x="937.99" y="2233.03" font-size="57.45" font-weight="bold" font-style="italic" textLength="15.48" lengthAdjust="spacingAndGlyphs" font-family='"Liberation Serif", "Times New Roman", serif'>′</text>
<path d="M1019 2261 L1031.5 2250 L1099.1 2250 L1103 2239.6 L1106.9 2250 L1173.5 2250 L1186 2261" fill="none" stroke="#000" stroke-width="2.6" stroke-linejoin="round"  stroke-linejoin="miter"/>
<text x="1093.33" y="2228.11" font-size="48.61" font-weight="bold" font-style="italic" textLength="16.35" lengthAdjust="spacingAndGlyphs" font-family='"Liberation Serif", "Times New Roman", serif'>τ</text>
<text x="1107.84" y="2234.8" font-size="28.66" font-weight="bold" font-style="italic" textLength="14.01" lengthAdjust="spacingAndGlyphs" font-family='"Liberation Serif", "Times New Roman", serif'>r</text>
<path d="M1221.25 2193.5 L1233.75 2182.5 L1301.1 2182.5 L1305 2172.1 L1308.9 2182.5 L1376.75 2182.5 L1389.25 2193.5" fill="none" stroke="#000" stroke-width="2.6" stroke-linejoin="round"  stroke-linejoin="miter"/>
<text x="1296.87" y="2160.61" font-size="48.61" font-weight="bold" font-style="italic" textLength="17.54" lengthAdjust="spacingAndGlyphs" font-family='"Liberation Serif", "Times New Roman", serif'>τ</text>
<text x="1311.55" y="2167.3" font-size="28.66" font-weight="bold" font-style="italic" textLength="13.91" lengthAdjust="spacingAndGlyphs" font-family='"Liberation Serif", "Times New Roman", serif'>r</text>
<text x="1312.99" y="2165.53" font-size="57.45" font-weight="bold" font-style="italic" textLength="15.48" lengthAdjust="spacingAndGlyphs" font-family='"Liberation Serif", "Times New Roman", serif'>′</text>
<path d="M1394.25 2193.5 L1406.75 2182.5 L1473.6 2182.5 L1477.5 2172.1 L1481.4 2182.5 L1549.25 2182.5 L1561.75 2193.5" fill="none" stroke="#000" stroke-width="2.6" stroke-linejoin="round"  stroke-linejoin="miter"/>
<text x="1467.83" y="2160.61" font-size="48.61" font-weight="bold" font-style="italic" textLength="16.35" lengthAdjust="spacingAndGlyphs" font-family='"Liberation Serif", "Times New Roman", serif'>τ</text>
<text x="1482.34" y="2167.3" font-size="28.66" font-weight="bold" font-style="italic" textLength="14.01" lengthAdjust="spacingAndGlyphs" font-family='"Liberation Serif", "Times New Roman", serif'>r</text>
<path d="M1599.25 2226 L1611.75 2215 L1679.6 2215 L1683.5 2204.6 L1687.4 2215 L1754.75 2215 L1767.25 2226" fill="none" stroke="#000" stroke-width="2.6" stroke-linejoin="round"  stroke-linejoin="miter"/>
<text x="1675.37" y="2193.11" font-size="48.61" font-weight="bold" font-style="italic" textLength="17.54" lengthAdjust="spacingAndGlyphs" font-family='"Liberation Serif", "Times New Roman", serif'>τ</text>
<text x="1690.05" y="2199.8" font-size="28.66" font-weight="bold" font-style="italic" textLength="13.91" lengthAdjust="spacingAndGlyphs" font-family='"Liberation Serif", "Times New Roman", serif'>r</text>
<text x="1691.49" y="2198.03" font-size="57.45" font-weight="bold" font-style="italic" textLength="15.48" lengthAdjust="spacingAndGlyphs" font-family='"Liberation Serif", "Times New Roman", serif'>′</text>
<path d="M1773.5 2226 L1786 2215 L1853.35 2215 L1857.25 2204.6 L1861.15 2215 L1929 2215 L1941.5 2226" fill="none" stroke="#000" stroke-width="2.6" stroke-linejoin="round"  stroke-linejoin="miter"/>
<text x="1847.58" y="2193.11" font-size="48.61" font-weight="bold" font-style="italic" textLength="16.35" lengthAdjust="spacingAndGlyphs" font-family='"Liberation Serif", "Times New Roman", serif'>τ</text>
<text x="1862.09" y="2199.8" font-size="28.66" font-weight="bold" font-style="italic" textLength="14.01" lengthAdjust="spacingAndGlyphs" font-family='"Liberation Serif", "Times New Roman", serif'>r</text>
<rect x="1338.5" y="1655.2" width="590.3" height="333.5" fill="#fff" stroke="#333" stroke-width="1.5" />
<rect x="1369.9" y="1678.4" width="60.5" height="19.3" fill="url(#psim)" stroke="#a6a6a6" stroke-width="2.8" />
<rect x="1369.9" y="1723.3" width="60.5" height="19.3" fill="url(#pexp)" stroke="#000" stroke-width="2.8" />
<rect x="1366.65" y="1787.75" width="61.1" height="20" fill="url(#pgrid)" stroke="#999" stroke-width="2.5" />
<rect x="1366.9" y="1827.8" width="60.6" height="19.5" fill="url(#pchk)" stroke="#000" stroke-width="3" />
<text x="1450.04" y="1700.1" font-size="31.7" font-weight="bold" textLength="125.18" lengthAdjust="spacingAndGlyphs">Simulated</text>
<text x="1449.04" y="1745.1" font-size="31.7" font-weight="bold" textLength="165.44" lengthAdjust="spacingAndGlyphs">Experimental</text>
<text x="1447.65" y="1809" font-size="31.7" font-weight="bold" textLength="260.85" lengthAdjust="spacingAndGlyphs">SSBC current source</text>
<text x="1447.65" y="1849.8" font-size="31.7" font-weight="bold" textLength="281.23" lengthAdjust="spacingAndGlyphs">SBCBC current source</text>
<text x="1794.62" y="1816" font-size="31.7" font-weight="bold" textLength="52.37" lengthAdjust="spacingAndGlyphs">*For</text>
<text x="1746.98" y="1847.7" font-size="31.7" font-weight="bold" textLength="148.95" lengthAdjust="spacingAndGlyphs">comparison</text>
<text x="1733.52" y="1839.35" font-size="70.42" font-weight="bold" textLength="13.57" lengthAdjust="spacingAndGlyphs">[</text>
<text x="1895.11" y="1839.35" font-size="70.42" font-weight="bold" textLength="13.57" lengthAdjust="spacingAndGlyphs">]</text>
<text x="1372.63" y="1920.86" font-size="44.14" font-weight="bold" font-style="italic" textLength="22.59" lengthAdjust="spacingAndGlyphs" font-family='"Liberation Serif", "Times New Roman", serif'>τ</text>
<text x="1390.27" y="1928.3" font-size="33.12" font-weight="bold" font-style="italic" textLength="13.59" lengthAdjust="spacingAndGlyphs" font-family='"Liberation Serif", "Times New Roman", serif'>r</text>
<text x="1392.46" y="1931.02" font-size="59.57" font-weight="bold" font-style="italic" textLength="12.84" lengthAdjust="spacingAndGlyphs" font-family='"Liberation Serif", "Times New Roman", serif'>′</text>
<text x="1408.61" y="1919.6" font-size="31.7" font-weight="bold" textLength="346.7" lengthAdjust="spacingAndGlyphs">: @ 63.2% of expected output</text>
<text x="1372.63" y="1962.16" font-size="44.14" font-weight="bold" font-style="italic" textLength="22.59" lengthAdjust="spacingAndGlyphs" font-family='"Liberation Serif", "Times New Roman", serif'>τ</text>
<text x="1390.27" y="1969.6" font-size="33.12" font-weight="bold" font-style="italic" textLength="13.59" lengthAdjust="spacingAndGlyphs" font-family='"Liberation Serif", "Times New Roman", serif'>r</text>
<text x="1408.6" y="1961.1" font-size="31.7" font-weight="bold" textLength="326.51" lengthAdjust="spacingAndGlyphs">: @ 95% of expected output</text>
</svg>
</body></html>
